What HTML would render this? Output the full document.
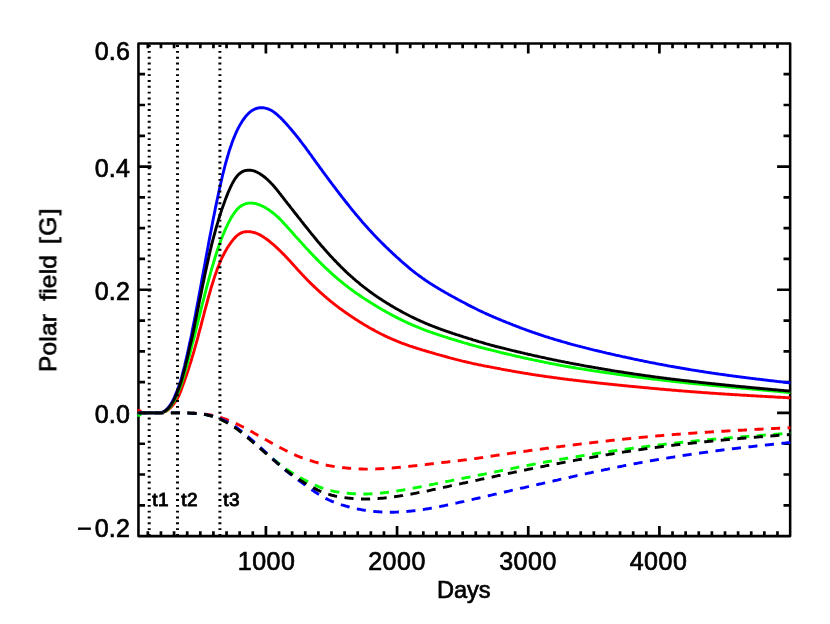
<!DOCTYPE html>
<html><head><meta charset="utf-8"><title>Polar field</title>
<style>html,body{margin:0;padding:0;background:#fff}svg{display:block}</style></head>
<body>
<svg width="830" height="624" viewBox="0 0 830 624">
<rect width="830" height="624" fill="#fff"/>
<rect x="138.45" y="43.4" width="651.7" height="492.7" fill="none" stroke="#000" stroke-width="2.55" stroke-linejoin="round"/>
<path d="M147.85 536.1 v-4.9 M147.85 43.4 v4.9 M160.96 536.1 v-4.9 M160.96 43.4 v4.9 M174.08 536.1 v-4.9 M174.08 43.4 v4.9 M187.20 536.1 v-4.9 M187.20 43.4 v4.9 M200.31 536.1 v-4.9 M200.31 43.4 v4.9 M213.43 536.1 v-4.9 M213.43 43.4 v4.9 M226.55 536.1 v-4.9 M226.55 43.4 v4.9 M239.67 536.1 v-4.9 M239.67 43.4 v4.9 M252.78 536.1 v-4.9 M252.78 43.4 v4.9 M265.90 536.1 v-10 M265.90 43.4 v10 M279.02 536.1 v-4.9 M279.02 43.4 v4.9 M292.13 536.1 v-4.9 M292.13 43.4 v4.9 M305.25 536.1 v-4.9 M305.25 43.4 v4.9 M318.37 536.1 v-4.9 M318.37 43.4 v4.9 M331.49 536.1 v-4.9 M331.49 43.4 v4.9 M344.60 536.1 v-4.9 M344.60 43.4 v4.9 M357.72 536.1 v-4.9 M357.72 43.4 v4.9 M370.84 536.1 v-4.9 M370.84 43.4 v4.9 M383.95 536.1 v-4.9 M383.95 43.4 v4.9 M397.07 536.1 v-10 M397.07 43.4 v10 M410.19 536.1 v-4.9 M410.19 43.4 v4.9 M423.30 536.1 v-4.9 M423.30 43.4 v4.9 M436.42 536.1 v-4.9 M436.42 43.4 v4.9 M449.54 536.1 v-4.9 M449.54 43.4 v4.9 M462.65 536.1 v-4.9 M462.65 43.4 v4.9 M475.77 536.1 v-4.9 M475.77 43.4 v4.9 M488.89 536.1 v-4.9 M488.89 43.4 v4.9 M502.01 536.1 v-4.9 M502.01 43.4 v4.9 M515.12 536.1 v-4.9 M515.12 43.4 v4.9 M528.24 536.1 v-10 M528.24 43.4 v10 M541.36 536.1 v-4.9 M541.36 43.4 v4.9 M554.47 536.1 v-4.9 M554.47 43.4 v4.9 M567.59 536.1 v-4.9 M567.59 43.4 v4.9 M580.71 536.1 v-4.9 M580.71 43.4 v4.9 M593.83 536.1 v-4.9 M593.83 43.4 v4.9 M606.94 536.1 v-4.9 M606.94 43.4 v4.9 M620.06 536.1 v-4.9 M620.06 43.4 v4.9 M633.18 536.1 v-4.9 M633.18 43.4 v4.9 M646.29 536.1 v-4.9 M646.29 43.4 v4.9 M659.41 536.1 v-10 M659.41 43.4 v10 M672.53 536.1 v-4.9 M672.53 43.4 v4.9 M685.64 536.1 v-4.9 M685.64 43.4 v4.9 M698.76 536.1 v-4.9 M698.76 43.4 v4.9 M711.88 536.1 v-4.9 M711.88 43.4 v4.9 M725.00 536.1 v-4.9 M725.00 43.4 v4.9 M738.11 536.1 v-4.9 M738.11 43.4 v4.9 M751.23 536.1 v-4.9 M751.23 43.4 v4.9 M764.35 536.1 v-4.9 M764.35 43.4 v4.9 M777.46 536.1 v-4.9 M777.46 43.4 v4.9 M138.45 505.31 h6.6 M790.1 505.31 h-6.6 M138.45 474.52 h6.6 M790.1 474.52 h-6.6 M138.45 443.73 h6.6 M790.1 443.73 h-6.6 M138.45 412.93 h13 M790.1 412.93 h-13 M138.45 382.13 h6.6 M790.1 382.13 h-6.6 M138.45 351.34 h6.6 M790.1 351.34 h-6.6 M138.45 320.55 h6.6 M790.1 320.55 h-6.6 M138.45 289.75 h13 M790.1 289.75 h-13 M138.45 258.96 h6.6 M790.1 258.96 h-6.6 M138.45 228.16 h6.6 M790.1 228.16 h-6.6 M138.45 197.36 h6.6 M790.1 197.36 h-6.6 M138.45 166.57 h13 M790.1 166.57 h-13 M138.45 135.78 h6.6 M790.1 135.78 h-6.6 M138.45 104.98 h6.6 M790.1 104.98 h-6.6 M138.45 74.19 h6.6 M790.1 74.19 h-6.6" stroke="#000" stroke-width="2.7" fill="none"/>
<g fill="none" stroke-width="2.9" stroke-linejoin="round">
<path d="M137.4 410.5 L139.6 410.7 L142.5 412.9 L158.0 412.9 L161.0 412.9 L162.0 412.7 L162.9 412.4 L163.9 412.1 L164.9 411.7 L165.8 411.3 L166.8 410.7 L167.8 410.0 L168.8 409.2 L169.7 408.4 L170.7 407.5 L171.7 406.5 L172.6 405.4 L173.6 404.2 L174.6 402.9 L175.5 401.5 L176.5 399.9 L177.5 398.2 L178.5 396.3 L179.4 394.3 L180.4 392.0 L181.4 389.5 L182.3 386.8 L183.3 384.1 L184.3 381.4 L185.2 378.7 L186.2 375.9 L187.2 373.0 L188.2 370.1 L189.1 367.1 L190.1 364.1 L191.1 361.0 L192.0 357.8 L193.0 354.5 L194.0 351.2 L194.9 347.8 L195.9 344.4 L196.9 340.8 L197.9 337.2 L198.8 333.6 L199.8 329.9 L200.8 326.3 L201.7 322.6 L202.7 318.8 L203.7 315.1 L204.6 311.4 L205.6 307.8 L206.6 304.1 L207.6 300.5 L208.5 297.0 L209.5 293.6 L210.5 290.2 L211.4 286.9 L212.4 283.7 L213.4 280.6 L214.3 277.6 L215.3 274.7 L216.3 272.0 L217.2 269.3 L218.2 266.7 L219.2 264.3 L220.2 262.0 L221.1 259.7 L222.1 257.7 L223.1 255.7 L224.0 253.8 L225.0 252.0 L226.0 250.2 L226.9 248.6 L227.9 247.0 L228.9 245.5 L229.9 244.1 L230.8 242.7 L231.8 241.4 L232.8 240.2 L233.7 239.0 L234.7 237.9 L235.7 236.9 L236.6 236.0 L237.6 235.1 L238.6 234.4 L239.6 233.8 L240.5 233.2 L241.5 232.8 L242.5 232.4 L243.4 232.1 L244.4 231.9 L245.4 231.7 L246.3 231.7 L247.3 231.6 L248.3 231.6 L249.3 231.7 L250.2 231.8 L251.2 231.9 L252.2 232.1 L253.1 232.3 L254.1 232.5 L255.1 232.8 L256.0 233.1 L257.0 233.5 L258.0 233.9 L258.9 234.4 L259.9 234.9 L260.9 235.4 L261.9 236.0 L262.8 236.6 L263.8 237.2 L264.8 237.9 L265.7 238.5 L266.7 239.2 L267.7 240.0 L268.6 240.7 L269.6 241.5 L270.6 242.3 L271.6 243.1 L272.5 243.9 L273.5 244.7 L274.5 245.6 L275.4 246.4 L276.4 247.3 L277.4 248.2 L278.3 249.2 L279.3 250.1 L280.3 251.0 L281.3 252.0 L282.2 253.0 L283.2 253.9 L284.2 254.9 L285.1 255.9 L286.1 256.9 L287.1 258.0 L288.0 259.0 L289.0 260.0 L290.0 261.1 L291.0 262.2 L291.9 263.2 L292.9 264.3 L293.9 265.4 L294.8 266.4 L295.8 267.5 L296.8 268.6 L297.7 269.7 L298.7 270.8 L299.7 271.8 L300.7 272.9 L301.6 273.9 L302.6 275.0 L303.6 276.0 L304.5 277.0 L305.5 278.0 L306.5 279.0 L307.4 280.0 L308.4 281.0 L309.4 282.0 L310.3 282.9 L311.3 283.9 L312.3 284.8 L313.3 285.7 L314.2 286.7 L315.2 287.6 L316.2 288.5 L317.1 289.4 L318.1 290.3 L319.1 291.2 L320.0 292.1 L321.0 292.9 L322.0 293.8 L323.0 294.7 L323.9 295.5 L324.9 296.4 L325.9 297.2 L326.8 298.1 L327.8 298.9 L328.8 299.7 L329.7 300.5 L330.7 301.3 L331.7 302.1 L332.7 302.8 L333.6 303.6 L334.6 304.4 L335.6 305.2 L336.5 305.9 L337.5 306.6 L338.5 307.4 L339.4 308.1 L340.4 308.8 L341.4 309.5 L342.4 310.2 L343.3 310.9 L344.3 311.6 L345.3 312.3 L346.2 313.0 L347.2 313.6 L348.2 314.3 L349.1 315.0 L350.1 315.6 L351.1 316.3 L352.1 316.9 L353.0 317.6 L354.0 318.2 L355.0 318.8 L355.9 319.5 L356.9 320.1 L357.9 320.7 L358.8 321.3 L359.8 321.9 L360.8 322.5 L361.7 323.1 L362.7 323.7 L363.7 324.3 L364.7 324.9 L365.6 325.5 L366.6 326.0 L367.6 326.6 L368.5 327.2 L369.5 327.7 L370.5 328.3 L371.4 328.8 L372.4 329.4 L373.4 329.9 L374.4 330.4 L375.3 331.0 L376.3 331.5 L377.3 332.0 L378.2 332.5 L379.2 333.0 L380.2 333.5 L381.1 334.0 L382.1 334.5 L383.1 334.9 L384.1 335.4 L385.0 335.9 L386.0 336.3 L387.0 336.8 L387.9 337.3 L388.9 337.7 L389.9 338.1 L390.8 338.6 L391.8 339.0 L392.8 339.4 L393.8 339.8 L394.7 340.2 L395.7 340.6 L396.7 341.0 L397.6 341.4 L398.6 341.8 L399.6 342.2 L400.5 342.6 L401.5 343.0 L402.5 343.3 L403.4 343.7 L404.4 344.0 L405.4 344.4 L406.4 344.7 L407.3 345.1 L408.3 345.4 L409.3 345.8 L410.2 346.1 L411.2 346.4 L412.2 346.7 L413.1 347.1 L414.1 347.4 L415.1 347.7 L416.1 348.0 L417.0 348.3 L418.0 348.6 L419.0 348.9 L419.9 349.2 L420.9 349.5 L421.9 349.8 L422.8 350.1 L423.8 350.4 L424.8 350.7 L425.8 351.0 L426.7 351.3 L427.7 351.5 L428.7 351.8 L429.6 352.1 L430.6 352.4 L431.6 352.7 L432.5 353.0 L433.5 353.2 L434.5 353.5 L435.5 353.8 L436.4 354.1 L437.4 354.3 L438.4 354.6 L439.3 354.9 L440.3 355.2 L441.3 355.4 L442.2 355.7 L443.2 356.0 L444.2 356.2 L445.2 356.5 L446.1 356.8 L447.1 357.0 L448.1 357.3 L449.0 357.6 L450.0 357.8 L451.0 358.1 L451.9 358.3 L452.9 358.6 L453.9 358.8 L454.8 359.1 L455.8 359.4 L456.8 359.6 L457.8 359.9 L458.7 360.1 L459.7 360.3 L460.7 360.6 L461.6 360.8 L462.6 361.1 L463.6 361.3 L464.5 361.5 L465.5 361.8 L466.5 362.0 L467.5 362.2 L468.4 362.5 L469.4 362.7 L470.4 362.9 L471.3 363.1 L472.3 363.4 L473.3 363.6 L474.2 363.8 L475.2 364.0 L476.2 364.2 L477.2 364.4 L478.1 364.6 L479.1 364.8 L480.1 365.0 L481.0 365.2 L482.0 365.4 L483.0 365.6 L483.9 365.8 L484.9 366.0 L485.9 366.1 L486.9 366.3 L487.8 366.5 L488.8 366.7 L489.8 366.9 L490.7 367.1 L491.7 367.2 L492.7 367.4 L493.6 367.6 L494.6 367.8 L495.6 368.0 L496.6 368.2 L497.5 368.4 L498.5 368.5 L499.5 368.7 L500.4 368.9 L501.4 369.1 L502.4 369.3 L503.3 369.5 L504.3 369.6 L505.3 369.8 L506.2 370.0 L507.2 370.2 L508.2 370.4 L509.2 370.5 L510.1 370.7 L511.1 370.9 L512.1 371.1 L513.0 371.2 L514.0 371.4 L515.0 371.6 L515.9 371.7 L516.9 371.9 L517.9 372.1 L518.9 372.2 L519.8 372.4 L520.8 372.6 L521.8 372.7 L522.7 372.9 L523.7 373.1 L524.7 373.2 L525.6 373.4 L526.6 373.5 L527.6 373.7 L528.6 373.9 L529.5 374.0 L530.5 374.2 L531.5 374.3 L532.4 374.5 L533.4 374.6 L534.4 374.8 L535.3 374.9 L536.3 375.1 L537.3 375.2 L538.3 375.3 L539.2 375.5 L540.2 375.6 L541.2 375.8 L542.1 375.9 L543.1 376.1 L544.1 376.2 L545.0 376.3 L546.0 376.5 L547.0 376.6 L548.0 376.8 L548.9 376.9 L549.9 377.0 L550.9 377.2 L551.8 377.3 L552.8 377.4 L553.8 377.6 L554.7 377.7 L555.7 377.8 L556.7 377.9 L557.6 378.1 L558.6 378.2 L559.6 378.3 L560.6 378.5 L561.5 378.6 L562.5 378.7 L563.5 378.8 L564.4 379.0 L565.4 379.1 L566.4 379.2 L567.3 379.3 L568.3 379.5 L569.3 379.6 L570.3 379.7 L571.2 379.8 L572.2 379.9 L573.2 380.1 L574.1 380.2 L575.1 380.3 L576.1 380.4 L577.0 380.5 L578.0 380.6 L579.0 380.8 L580.0 380.9 L580.9 381.0 L581.9 381.1 L582.9 381.2 L583.8 381.3 L584.8 381.4 L585.8 381.6 L586.7 381.7 L587.7 381.8 L588.7 381.9 L589.7 382.0 L590.6 382.1 L591.6 382.2 L592.6 382.3 L593.5 382.4 L594.5 382.5 L595.5 382.7 L596.4 382.8 L597.4 382.9 L598.4 383.0 L599.3 383.1 L600.3 383.2 L601.3 383.3 L602.3 383.4 L603.2 383.5 L604.2 383.6 L605.2 383.7 L606.1 383.8 L607.1 383.9 L608.1 384.0 L609.0 384.1 L610.0 384.2 L611.0 384.3 L612.0 384.4 L612.9 384.5 L613.9 384.6 L614.9 384.7 L615.8 384.8 L616.8 384.9 L617.8 385.0 L618.7 385.1 L619.7 385.2 L620.7 385.3 L621.7 385.4 L622.6 385.5 L623.6 385.6 L624.6 385.7 L625.5 385.8 L626.5 385.9 L627.5 386.0 L628.4 386.1 L629.4 386.2 L630.4 386.3 L631.4 386.4 L632.3 386.5 L633.3 386.5 L634.3 386.6 L635.2 386.7 L636.2 386.8 L637.2 386.9 L638.1 387.0 L639.1 387.1 L640.1 387.2 L641.1 387.3 L642.0 387.4 L643.0 387.5 L644.0 387.6 L644.9 387.7 L645.9 387.8 L646.9 387.8 L647.8 387.9 L648.8 388.0 L649.8 388.1 L650.7 388.2 L651.7 388.3 L652.7 388.4 L653.7 388.5 L654.6 388.6 L655.6 388.6 L656.6 388.7 L657.5 388.8 L658.5 388.9 L659.5 389.0 L660.4 389.1 L661.4 389.2 L662.4 389.3 L663.4 389.3 L664.3 389.4 L665.3 389.5 L666.3 389.6 L667.2 389.7 L668.2 389.8 L669.2 389.8 L670.1 389.9 L671.1 390.0 L672.1 390.1 L673.1 390.2 L674.0 390.3 L675.0 390.3 L676.0 390.4 L676.9 390.5 L677.9 390.6 L678.9 390.7 L679.8 390.7 L680.8 390.8 L681.8 390.9 L682.8 391.0 L683.7 391.1 L684.7 391.1 L685.7 391.2 L686.6 391.3 L687.6 391.4 L688.6 391.4 L689.5 391.5 L690.5 391.6 L691.5 391.7 L692.5 391.8 L693.4 391.8 L694.4 391.9 L695.4 392.0 L696.3 392.0 L697.3 392.1 L698.3 392.2 L699.2 392.3 L700.2 392.3 L701.2 392.4 L702.1 392.5 L703.1 392.6 L704.1 392.6 L705.1 392.7 L706.0 392.8 L707.0 392.8 L708.0 392.9 L708.9 393.0 L709.9 393.0 L710.9 393.1 L711.8 393.2 L712.8 393.2 L713.8 393.3 L714.8 393.4 L715.7 393.4 L716.7 393.5 L717.7 393.6 L718.6 393.6 L719.6 393.7 L720.6 393.8 L721.5 393.8 L722.5 393.9 L723.5 394.0 L724.5 394.0 L725.4 394.1 L726.4 394.1 L727.4 394.2 L728.3 394.3 L729.3 394.3 L730.3 394.4 L731.2 394.5 L732.2 394.5 L733.2 394.6 L734.2 394.6 L735.1 394.7 L736.1 394.8 L737.1 394.8 L738.0 394.9 L739.0 394.9 L740.0 395.0 L740.9 395.1 L741.9 395.1 L742.9 395.2 L743.8 395.2 L744.8 395.3 L745.8 395.3 L746.8 395.4 L747.7 395.5 L748.7 395.5 L749.7 395.6 L750.6 395.6 L751.6 395.7 L752.6 395.7 L753.5 395.8 L754.5 395.9 L755.5 395.9 L756.5 396.0 L757.4 396.0 L758.4 396.1 L759.4 396.1 L760.3 396.2 L761.3 396.2 L762.3 396.3 L763.2 396.4 L764.2 396.4 L765.2 396.5 L766.2 396.5 L767.1 396.6 L768.1 396.6 L769.1 396.7 L770.0 396.7 L771.0 396.8 L772.0 396.8 L772.9 396.9 L773.9 396.9 L774.9 397.0 L775.9 397.1 L776.8 397.1 L777.8 397.2 L778.8 397.2 L779.7 397.3 L780.7 397.3 L781.7 397.4 L782.6 397.4 L783.6 397.5 L784.6 397.5 L785.6 397.6 L786.5 397.6 L787.5 397.7 L788.5 397.7 L789.4 397.8 L790.4 397.8" stroke="#ff0000"/>
<path d="M137.4 415.4 L139.6 415.2 L142.5 412.9 L158.0 412.9 L160.8 412.9 L161.8 412.7 L162.7 412.4 L163.7 412.0 L164.7 411.6 L165.7 411.0 L166.6 410.3 L167.6 409.5 L168.6 408.5 L169.5 407.5 L170.5 406.4 L171.5 405.1 L172.4 403.6 L173.4 402.1 L174.4 400.4 L175.4 398.5 L176.3 396.4 L177.3 394.2 L178.3 391.9 L179.2 389.5 L180.2 387.0 L181.2 384.3 L182.1 381.5 L183.1 378.4 L184.1 375.0 L185.1 371.5 L186.0 368.1 L187.0 364.7 L188.0 361.2 L188.9 357.6 L189.9 353.7 L190.9 349.7 L191.8 345.8 L192.8 342.2 L193.8 338.6 L194.8 334.8 L195.7 330.9 L196.7 326.9 L197.7 323.0 L198.6 319.1 L199.6 315.1 L200.6 311.2 L201.5 307.4 L202.5 303.5 L203.5 299.7 L204.5 295.8 L205.4 292.1 L206.4 288.4 L207.4 284.7 L208.3 281.1 L209.3 277.5 L210.3 274.0 L211.2 270.5 L212.2 267.1 L213.2 263.8 L214.2 260.5 L215.1 257.3 L216.1 254.2 L217.1 251.2 L218.0 248.3 L219.0 245.5 L220.0 242.8 L220.9 240.2 L221.9 237.7 L222.9 235.2 L223.9 232.9 L224.8 230.6 L225.8 228.4 L226.8 226.3 L227.7 224.3 L228.7 222.3 L229.7 220.5 L230.6 218.7 L231.6 217.0 L232.6 215.5 L233.6 214.0 L234.5 212.6 L235.5 211.3 L236.5 210.1 L237.4 209.0 L238.4 208.1 L239.4 207.2 L240.3 206.5 L241.3 205.8 L242.3 205.2 L243.3 204.7 L244.2 204.3 L245.2 203.9 L246.2 203.6 L247.1 203.4 L248.1 203.2 L249.1 203.1 L250.0 203.1 L251.0 203.0 L252.0 203.1 L253.0 203.2 L253.9 203.3 L254.9 203.5 L255.9 203.7 L256.8 204.0 L257.8 204.3 L258.8 204.6 L259.8 205.0 L260.7 205.4 L261.7 205.8 L262.7 206.3 L263.6 206.7 L264.6 207.2 L265.6 207.8 L266.5 208.4 L267.5 209.0 L268.5 209.6 L269.5 210.3 L270.4 211.0 L271.4 211.7 L272.4 212.5 L273.3 213.2 L274.3 214.0 L275.3 214.8 L276.2 215.6 L277.2 216.5 L278.2 217.4 L279.2 218.4 L280.1 219.3 L281.1 220.3 L282.1 221.3 L283.0 222.4 L284.0 223.4 L285.0 224.5 L285.9 225.5 L286.9 226.6 L287.9 227.7 L288.9 228.8 L289.8 229.9 L290.8 230.9 L291.8 232.0 L292.7 233.1 L293.7 234.2 L294.7 235.3 L295.6 236.4 L296.6 237.5 L297.6 238.5 L298.6 239.6 L299.5 240.7 L300.5 241.8 L301.5 242.8 L302.4 243.9 L303.4 245.0 L304.4 246.1 L305.3 247.1 L306.3 248.2 L307.3 249.2 L308.3 250.3 L309.2 251.3 L310.2 252.4 L311.2 253.4 L312.1 254.4 L313.1 255.4 L314.1 256.4 L315.0 257.4 L316.0 258.4 L317.0 259.4 L318.0 260.4 L318.9 261.4 L319.9 262.3 L320.9 263.3 L321.8 264.3 L322.8 265.2 L323.8 266.1 L324.7 267.1 L325.7 268.0 L326.7 268.9 L327.7 269.8 L328.6 270.7 L329.6 271.6 L330.6 272.5 L331.5 273.4 L332.5 274.3 L333.5 275.1 L334.4 276.0 L335.4 276.8 L336.4 277.7 L337.4 278.5 L338.3 279.3 L339.3 280.1 L340.3 280.9 L341.2 281.7 L342.2 282.5 L343.2 283.3 L344.2 284.1 L345.1 284.8 L346.1 285.6 L347.1 286.3 L348.0 287.1 L349.0 287.8 L350.0 288.6 L350.9 289.3 L351.9 290.0 L352.9 290.7 L353.9 291.4 L354.8 292.1 L355.8 292.8 L356.8 293.5 L357.7 294.1 L358.7 294.8 L359.7 295.5 L360.6 296.1 L361.6 296.8 L362.6 297.4 L363.6 298.1 L364.5 298.7 L365.5 299.3 L366.5 300.0 L367.4 300.6 L368.4 301.2 L369.4 301.8 L370.3 302.4 L371.3 303.0 L372.3 303.6 L373.3 304.2 L374.2 304.8 L375.2 305.4 L376.2 306.0 L377.1 306.6 L378.1 307.2 L379.1 307.8 L380.0 308.3 L381.0 308.9 L382.0 309.5 L383.0 310.0 L383.9 310.6 L384.9 311.1 L385.9 311.7 L386.8 312.2 L387.8 312.8 L388.8 313.3 L389.7 313.8 L390.7 314.4 L391.7 314.9 L392.7 315.4 L393.6 315.9 L394.6 316.4 L395.6 316.9 L396.5 317.4 L397.5 317.9 L398.5 318.4 L399.4 318.9 L400.4 319.4 L401.4 319.9 L402.4 320.3 L403.3 320.8 L404.3 321.2 L405.3 321.7 L406.2 322.2 L407.2 322.6 L408.2 323.1 L409.1 323.5 L410.1 323.9 L411.1 324.4 L412.1 324.8 L413.0 325.2 L414.0 325.6 L415.0 326.0 L415.9 326.4 L416.9 326.8 L417.9 327.2 L418.8 327.6 L419.8 328.0 L420.8 328.4 L421.8 328.8 L422.7 329.2 L423.7 329.6 L424.7 329.9 L425.6 330.3 L426.6 330.7 L427.6 331.0 L428.5 331.4 L429.5 331.7 L430.5 332.1 L431.5 332.4 L432.4 332.7 L433.4 333.1 L434.4 333.4 L435.3 333.7 L436.3 334.1 L437.3 334.4 L438.3 334.7 L439.2 335.0 L440.2 335.4 L441.2 335.7 L442.1 336.0 L443.1 336.3 L444.1 336.6 L445.0 336.9 L446.0 337.2 L447.0 337.5 L448.0 337.8 L448.9 338.2 L449.9 338.5 L450.9 338.8 L451.8 339.1 L452.8 339.4 L453.8 339.7 L454.7 340.0 L455.7 340.2 L456.7 340.5 L457.7 340.8 L458.6 341.1 L459.6 341.4 L460.6 341.7 L461.5 342.0 L462.5 342.3 L463.5 342.6 L464.4 342.9 L465.4 343.2 L466.4 343.4 L467.4 343.7 L468.3 344.0 L469.3 344.3 L470.3 344.6 L471.2 344.8 L472.2 345.1 L473.2 345.4 L474.1 345.6 L475.1 345.9 L476.1 346.2 L477.1 346.4 L478.0 346.7 L479.0 347.0 L480.0 347.2 L480.9 347.5 L481.9 347.7 L482.9 348.0 L483.8 348.2 L484.8 348.5 L485.8 348.7 L486.8 349.0 L487.7 349.2 L488.7 349.5 L489.7 349.7 L490.6 349.9 L491.6 350.2 L492.6 350.4 L493.5 350.7 L494.5 350.9 L495.5 351.1 L496.5 351.4 L497.4 351.6 L498.4 351.9 L499.4 352.1 L500.3 352.3 L501.3 352.6 L502.3 352.8 L503.2 353.0 L504.2 353.3 L505.2 353.5 L506.2 353.8 L507.1 354.0 L508.1 354.2 L509.1 354.4 L510.0 354.7 L511.0 354.9 L512.0 355.1 L512.9 355.4 L513.9 355.6 L514.9 355.8 L515.9 356.0 L516.8 356.3 L517.8 356.5 L518.8 356.7 L519.7 356.9 L520.7 357.2 L521.7 357.4 L522.7 357.6 L523.6 357.8 L524.6 358.0 L525.6 358.2 L526.5 358.5 L527.5 358.7 L528.5 358.9 L529.4 359.1 L530.4 359.3 L531.4 359.5 L532.4 359.7 L533.3 359.9 L534.3 360.1 L535.3 360.3 L536.2 360.5 L537.2 360.7 L538.2 360.9 L539.1 361.1 L540.1 361.3 L541.1 361.5 L542.1 361.7 L543.0 361.9 L544.0 362.1 L545.0 362.3 L545.9 362.5 L546.9 362.7 L547.9 362.9 L548.8 363.1 L549.8 363.3 L550.8 363.5 L551.8 363.6 L552.7 363.8 L553.7 364.0 L554.7 364.2 L555.6 364.4 L556.6 364.6 L557.6 364.7 L558.5 364.9 L559.5 365.1 L560.5 365.3 L561.5 365.4 L562.4 365.6 L563.4 365.8 L564.4 366.0 L565.3 366.1 L566.3 366.3 L567.3 366.5 L568.2 366.7 L569.2 366.8 L570.2 367.0 L571.2 367.2 L572.1 367.3 L573.1 367.5 L574.1 367.7 L575.0 367.8 L576.0 368.0 L577.0 368.1 L577.9 368.3 L578.9 368.5 L579.9 368.6 L580.9 368.8 L581.8 368.9 L582.8 369.1 L583.8 369.3 L584.7 369.4 L585.7 369.6 L586.7 369.7 L587.6 369.9 L588.6 370.0 L589.6 370.2 L590.6 370.3 L591.5 370.5 L592.5 370.6 L593.5 370.8 L594.4 370.9 L595.4 371.1 L596.4 371.2 L597.3 371.4 L598.3 371.5 L599.3 371.7 L600.3 371.8 L601.2 372.0 L602.2 372.1 L603.2 372.2 L604.1 372.4 L605.1 372.5 L606.1 372.7 L607.0 372.8 L608.0 372.9 L609.0 373.1 L610.0 373.2 L610.9 373.4 L611.9 373.5 L612.9 373.6 L613.8 373.8 L614.8 373.9 L615.8 374.1 L616.8 374.2 L617.7 374.3 L618.7 374.5 L619.7 374.6 L620.6 374.7 L621.6 374.9 L622.6 375.0 L623.5 375.1 L624.5 375.3 L625.5 375.4 L626.5 375.5 L627.4 375.7 L628.4 375.8 L629.4 375.9 L630.3 376.1 L631.3 376.2 L632.3 376.3 L633.2 376.5 L634.2 376.6 L635.2 376.7 L636.2 376.8 L637.1 377.0 L638.1 377.1 L639.1 377.2 L640.0 377.4 L641.0 377.5 L642.0 377.6 L642.9 377.7 L643.9 377.9 L644.9 378.0 L645.9 378.1 L646.8 378.2 L647.8 378.3 L648.8 378.5 L649.7 378.6 L650.7 378.7 L651.7 378.8 L652.6 379.0 L653.6 379.1 L654.6 379.2 L655.6 379.3 L656.5 379.4 L657.5 379.6 L658.5 379.7 L659.4 379.8 L660.4 379.9 L661.4 380.0 L662.3 380.1 L663.3 380.3 L664.3 380.4 L665.3 380.5 L666.2 380.6 L667.2 380.7 L668.2 380.8 L669.1 380.9 L670.1 381.0 L671.1 381.2 L672.0 381.3 L673.0 381.4 L674.0 381.5 L675.0 381.6 L675.9 381.7 L676.9 381.8 L677.9 381.9 L678.8 382.0 L679.8 382.1 L680.8 382.2 L681.7 382.3 L682.7 382.4 L683.7 382.5 L684.7 382.7 L685.6 382.8 L686.6 382.9 L687.6 383.0 L688.5 383.1 L689.5 383.2 L690.5 383.3 L691.4 383.4 L692.4 383.5 L693.4 383.6 L694.4 383.7 L695.3 383.8 L696.3 383.9 L697.3 384.0 L698.2 384.0 L699.2 384.1 L700.2 384.2 L701.2 384.3 L702.1 384.4 L703.1 384.5 L704.1 384.6 L705.0 384.7 L706.0 384.8 L707.0 384.9 L707.9 385.0 L708.9 385.1 L709.9 385.2 L710.9 385.3 L711.8 385.4 L712.8 385.5 L713.8 385.5 L714.7 385.6 L715.7 385.7 L716.7 385.8 L717.6 385.9 L718.6 386.0 L719.6 386.1 L720.6 386.2 L721.5 386.3 L722.5 386.4 L723.5 386.4 L724.4 386.5 L725.4 386.6 L726.4 386.7 L727.3 386.8 L728.3 386.9 L729.3 387.0 L730.3 387.1 L731.2 387.1 L732.2 387.2 L733.2 387.3 L734.1 387.4 L735.1 387.5 L736.1 387.6 L737.0 387.7 L738.0 387.8 L739.0 387.9 L740.0 387.9 L740.9 388.0 L741.9 388.1 L742.9 388.2 L743.8 388.3 L744.8 388.4 L745.8 388.5 L746.7 388.6 L747.7 388.6 L748.7 388.7 L749.7 388.8 L750.6 388.9 L751.6 389.0 L752.6 389.1 L753.5 389.2 L754.5 389.3 L755.5 389.4 L756.4 389.4 L757.4 389.5 L758.4 389.6 L759.4 389.7 L760.3 389.8 L761.3 389.9 L762.3 390.0 L763.2 390.1 L764.2 390.2 L765.2 390.3 L766.1 390.3 L767.1 390.4 L768.1 390.5 L769.1 390.6 L770.0 390.7 L771.0 390.8 L772.0 390.9 L772.9 391.0 L773.9 391.1 L774.9 391.1 L775.8 391.2 L776.8 391.3 L777.8 391.4 L778.8 391.5 L779.7 391.6 L780.7 391.7 L781.7 391.8 L782.6 391.9 L783.6 392.0 L784.6 392.0 L785.5 392.1 L786.5 392.2 L787.5 392.3 L788.5 392.4 L789.4 392.5 L790.4 392.6" stroke="#00ff00"/>
<path d="M138.4 412.9 L158.0 412.9 L160.3 412.9 L161.3 412.6 L162.2 412.2 L163.2 411.8 L164.2 411.3 L165.2 410.6 L166.1 409.8 L167.1 408.9 L168.1 407.9 L169.0 406.7 L170.0 405.4 L171.0 403.8 L172.0 402.2 L172.9 400.4 L173.9 398.4 L174.9 396.2 L175.8 393.9 L176.8 391.5 L177.8 389.0 L178.7 386.5 L179.7 383.7 L180.7 380.6 L181.7 377.2 L182.6 373.5 L183.6 369.7 L184.6 365.8 L185.5 361.9 L186.5 357.8 L187.5 353.3 L188.5 348.7 L189.4 344.2 L190.4 340.0 L191.4 335.4 L192.3 330.5 L193.3 325.6 L194.3 320.6 L195.3 315.5 L196.2 310.4 L197.2 305.3 L198.2 300.1 L199.1 294.9 L200.1 289.7 L201.1 284.4 L202.0 279.1 L203.0 273.9 L204.0 268.6 L205.0 263.3 L205.9 258.0 L206.9 252.7 L207.9 247.4 L208.8 242.2 L209.8 237.1 L210.8 231.9 L211.8 226.8 L212.7 221.8 L213.7 216.8 L214.7 211.9 L215.6 207.1 L216.6 202.4 L217.6 197.7 L218.6 193.1 L219.5 188.7 L220.5 184.3 L221.5 180.1 L222.4 176.0 L223.4 172.0 L224.4 168.2 L225.3 164.5 L226.3 160.9 L227.3 157.5 L228.3 154.2 L229.2 151.0 L230.2 148.0 L231.2 145.2 L232.1 142.4 L233.1 139.8 L234.1 137.4 L235.1 135.0 L236.0 132.8 L237.0 130.7 L238.0 128.7 L238.9 126.9 L239.9 125.1 L240.9 123.4 L241.9 121.8 L242.8 120.3 L243.8 119.0 L244.8 117.7 L245.7 116.4 L246.7 115.3 L247.7 114.3 L248.6 113.3 L249.6 112.4 L250.6 111.6 L251.6 110.9 L252.5 110.3 L253.5 109.7 L254.5 109.2 L255.4 108.8 L256.4 108.5 L257.4 108.2 L258.4 108.0 L259.3 107.8 L260.3 107.7 L261.3 107.7 L262.2 107.7 L263.2 107.8 L264.2 107.9 L265.2 108.1 L266.1 108.3 L267.1 108.6 L268.1 108.9 L269.0 109.3 L270.0 109.7 L271.0 110.2 L272.0 110.8 L272.9 111.4 L273.9 112.1 L274.9 112.8 L275.8 113.5 L276.8 114.3 L277.8 115.2 L278.7 116.1 L279.7 117.0 L280.7 117.9 L281.7 118.9 L282.6 119.9 L283.6 120.9 L284.6 122.0 L285.5 123.0 L286.5 124.1 L287.5 125.2 L288.5 126.3 L289.4 127.4 L290.4 128.5 L291.4 129.7 L292.3 130.8 L293.3 132.0 L294.3 133.2 L295.3 134.4 L296.2 135.6 L297.2 136.8 L298.2 138.0 L299.1 139.2 L300.1 140.5 L301.1 141.8 L302.0 143.0 L303.0 144.3 L304.0 145.6 L305.0 146.9 L305.9 148.2 L306.9 149.6 L307.9 150.9 L308.8 152.2 L309.8 153.6 L310.8 154.9 L311.8 156.2 L312.7 157.6 L313.7 158.9 L314.7 160.3 L315.6 161.6 L316.6 163.0 L317.6 164.3 L318.6 165.7 L319.5 167.0 L320.5 168.3 L321.5 169.7 L322.4 171.0 L323.4 172.3 L324.4 173.6 L325.3 174.9 L326.3 176.2 L327.3 177.6 L328.3 178.9 L329.2 180.2 L330.2 181.5 L331.2 182.8 L332.1 184.0 L333.1 185.3 L334.1 186.6 L335.1 187.9 L336.0 189.2 L337.0 190.5 L338.0 191.7 L338.9 193.0 L339.9 194.3 L340.9 195.5 L341.9 196.8 L342.8 198.0 L343.8 199.3 L344.8 200.5 L345.7 201.8 L346.7 203.0 L347.7 204.2 L348.7 205.4 L349.6 206.6 L350.6 207.9 L351.6 209.1 L352.5 210.3 L353.5 211.4 L354.5 212.6 L355.4 213.8 L356.4 215.0 L357.4 216.1 L358.4 217.3 L359.3 218.4 L360.3 219.6 L361.3 220.7 L362.2 221.8 L363.2 223.0 L364.2 224.1 L365.2 225.2 L366.1 226.2 L367.1 227.3 L368.1 228.4 L369.0 229.5 L370.0 230.5 L371.0 231.6 L372.0 232.6 L372.9 233.7 L373.9 234.7 L374.9 235.7 L375.8 236.7 L376.8 237.7 L377.8 238.7 L378.7 239.7 L379.7 240.7 L380.7 241.7 L381.7 242.7 L382.6 243.7 L383.6 244.6 L384.6 245.6 L385.5 246.5 L386.5 247.5 L387.5 248.4 L388.5 249.3 L389.4 250.3 L390.4 251.2 L391.4 252.1 L392.3 253.0 L393.3 253.9 L394.3 254.8 L395.3 255.7 L396.2 256.6 L397.2 257.5 L398.2 258.4 L399.1 259.2 L400.1 260.1 L401.1 261.0 L402.0 261.8 L403.0 262.7 L404.0 263.5 L405.0 264.4 L405.9 265.2 L406.9 266.0 L407.9 266.8 L408.8 267.7 L409.8 268.5 L410.8 269.3 L411.8 270.1 L412.7 270.8 L413.7 271.6 L414.7 272.4 L415.6 273.1 L416.6 273.9 L417.6 274.6 L418.6 275.3 L419.5 276.0 L420.5 276.7 L421.5 277.4 L422.4 278.1 L423.4 278.8 L424.4 279.5 L425.3 280.2 L426.3 280.8 L427.3 281.5 L428.3 282.1 L429.2 282.7 L430.2 283.4 L431.2 284.0 L432.1 284.6 L433.1 285.2 L434.1 285.8 L435.1 286.4 L436.0 287.0 L437.0 287.6 L438.0 288.2 L438.9 288.8 L439.9 289.3 L440.9 289.9 L441.9 290.5 L442.8 291.0 L443.8 291.6 L444.8 292.2 L445.7 292.7 L446.7 293.3 L447.7 293.8 L448.7 294.4 L449.6 294.9 L450.6 295.4 L451.6 296.0 L452.5 296.5 L453.5 297.0 L454.5 297.6 L455.4 298.1 L456.4 298.6 L457.4 299.2 L458.4 299.7 L459.3 300.2 L460.3 300.7 L461.3 301.3 L462.2 301.8 L463.2 302.3 L464.2 302.8 L465.2 303.3 L466.1 303.8 L467.1 304.4 L468.1 304.9 L469.0 305.4 L470.0 305.9 L471.0 306.4 L472.0 306.9 L472.9 307.3 L473.9 307.8 L474.9 308.3 L475.8 308.8 L476.8 309.3 L477.8 309.8 L478.7 310.2 L479.7 310.7 L480.7 311.2 L481.7 311.6 L482.6 312.1 L483.6 312.5 L484.6 313.0 L485.5 313.4 L486.5 313.9 L487.5 314.3 L488.5 314.7 L489.4 315.2 L490.4 315.6 L491.4 316.0 L492.3 316.4 L493.3 316.9 L494.3 317.3 L495.3 317.7 L496.2 318.1 L497.2 318.5 L498.2 318.9 L499.1 319.3 L500.1 319.7 L501.1 320.1 L502.0 320.5 L503.0 320.9 L504.0 321.3 L505.0 321.7 L505.9 322.1 L506.9 322.5 L507.9 322.9 L508.8 323.2 L509.8 323.6 L510.8 324.0 L511.8 324.4 L512.7 324.8 L513.7 325.2 L514.7 325.5 L515.6 325.9 L516.6 326.3 L517.6 326.7 L518.6 327.0 L519.5 327.4 L520.5 327.8 L521.5 328.1 L522.4 328.5 L523.4 328.9 L524.4 329.2 L525.4 329.6 L526.3 329.9 L527.3 330.3 L528.3 330.6 L529.2 331.0 L530.2 331.3 L531.2 331.7 L532.1 332.0 L533.1 332.4 L534.1 332.7 L535.1 333.0 L536.0 333.4 L537.0 333.7 L538.0 334.0 L538.9 334.3 L539.9 334.7 L540.9 335.0 L541.9 335.3 L542.8 335.6 L543.8 336.0 L544.8 336.3 L545.7 336.6 L546.7 336.9 L547.7 337.2 L548.7 337.5 L549.6 337.8 L550.6 338.1 L551.6 338.4 L552.5 338.7 L553.5 339.0 L554.5 339.3 L555.4 339.6 L556.4 339.9 L557.4 340.2 L558.4 340.5 L559.3 340.7 L560.3 341.0 L561.3 341.3 L562.2 341.6 L563.2 341.9 L564.2 342.2 L565.2 342.4 L566.1 342.7 L567.1 343.0 L568.1 343.3 L569.0 343.5 L570.0 343.8 L571.0 344.1 L572.0 344.3 L572.9 344.6 L573.9 344.9 L574.9 345.1 L575.8 345.4 L576.8 345.6 L577.8 345.9 L578.7 346.1 L579.7 346.4 L580.7 346.7 L581.7 346.9 L582.6 347.2 L583.6 347.4 L584.6 347.7 L585.5 347.9 L586.5 348.2 L587.5 348.4 L588.5 348.6 L589.4 348.9 L590.4 349.1 L591.4 349.4 L592.3 349.6 L593.3 349.8 L594.3 350.1 L595.3 350.3 L596.2 350.5 L597.2 350.8 L598.2 351.0 L599.1 351.2 L600.1 351.5 L601.1 351.7 L602.0 351.9 L603.0 352.2 L604.0 352.4 L605.0 352.6 L605.9 352.8 L606.9 353.1 L607.9 353.3 L608.8 353.5 L609.8 353.7 L610.8 354.0 L611.8 354.2 L612.7 354.4 L613.7 354.6 L614.7 354.8 L615.6 355.1 L616.6 355.3 L617.6 355.5 L618.6 355.7 L619.5 355.9 L620.5 356.1 L621.5 356.3 L622.4 356.6 L623.4 356.8 L624.4 357.0 L625.4 357.2 L626.3 357.4 L627.3 357.6 L628.3 357.8 L629.2 358.0 L630.2 358.2 L631.2 358.5 L632.1 358.7 L633.1 358.9 L634.1 359.1 L635.1 359.3 L636.0 359.5 L637.0 359.7 L638.0 359.9 L638.9 360.1 L639.9 360.3 L640.9 360.5 L641.9 360.7 L642.8 360.9 L643.8 361.1 L644.8 361.3 L645.7 361.5 L646.7 361.7 L647.7 361.9 L648.7 362.1 L649.6 362.3 L650.6 362.5 L651.6 362.6 L652.5 362.8 L653.5 363.0 L654.5 363.2 L655.4 363.4 L656.4 363.6 L657.4 363.8 L658.4 364.0 L659.3 364.1 L660.3 364.3 L661.3 364.5 L662.2 364.7 L663.2 364.9 L664.2 365.1 L665.2 365.2 L666.1 365.4 L667.1 365.6 L668.1 365.8 L669.0 366.0 L670.0 366.1 L671.0 366.3 L672.0 366.5 L672.9 366.7 L673.9 366.8 L674.9 367.0 L675.8 367.2 L676.8 367.3 L677.8 367.5 L678.7 367.7 L679.7 367.8 L680.7 368.0 L681.7 368.2 L682.6 368.3 L683.6 368.5 L684.6 368.7 L685.5 368.8 L686.5 369.0 L687.5 369.2 L688.5 369.3 L689.4 369.5 L690.4 369.6 L691.4 369.8 L692.3 370.0 L693.3 370.1 L694.3 370.3 L695.3 370.4 L696.2 370.6 L697.2 370.7 L698.2 370.9 L699.1 371.1 L700.1 371.2 L701.1 371.4 L702.1 371.5 L703.0 371.7 L704.0 371.8 L705.0 372.0 L705.9 372.1 L706.9 372.3 L707.9 372.4 L708.8 372.6 L709.8 372.7 L710.8 372.8 L711.8 373.0 L712.7 373.1 L713.7 373.3 L714.7 373.4 L715.6 373.6 L716.6 373.7 L717.6 373.8 L718.6 374.0 L719.5 374.1 L720.5 374.3 L721.5 374.4 L722.4 374.5 L723.4 374.7 L724.4 374.8 L725.4 374.9 L726.3 375.1 L727.3 375.2 L728.3 375.3 L729.2 375.5 L730.2 375.6 L731.2 375.7 L732.1 375.9 L733.1 376.0 L734.1 376.1 L735.1 376.3 L736.0 376.4 L737.0 376.5 L738.0 376.6 L738.9 376.8 L739.9 376.9 L740.9 377.0 L741.9 377.2 L742.8 377.3 L743.8 377.4 L744.8 377.5 L745.7 377.6 L746.7 377.8 L747.7 377.9 L748.7 378.0 L749.6 378.1 L750.6 378.3 L751.6 378.4 L752.5 378.5 L753.5 378.6 L754.5 378.7 L755.4 378.8 L756.4 379.0 L757.4 379.1 L758.4 379.2 L759.3 379.3 L760.3 379.4 L761.3 379.5 L762.2 379.7 L763.2 379.8 L764.2 379.9 L765.2 380.0 L766.1 380.1 L767.1 380.2 L768.1 380.4 L769.0 380.5 L770.0 380.6 L771.0 380.7 L772.0 380.8 L772.9 380.9 L773.9 381.0 L774.9 381.1 L775.8 381.3 L776.8 381.4 L777.8 381.5 L778.7 381.6 L779.7 381.7 L780.7 381.8 L781.7 381.9 L782.6 382.0 L783.6 382.1 L784.6 382.3 L785.5 382.4 L786.5 382.5 L787.5 382.6 L788.5 382.7 L789.4 382.8 L790.4 382.9" stroke="#0000ff"/>
<path d="M138.4 412.9 L158.0 412.9 L160.5 412.9 L161.5 412.6 L162.4 412.3 L163.4 411.9 L164.4 411.4 L165.4 410.8 L166.3 410.1 L167.3 409.2 L168.3 408.3 L169.2 407.2 L170.2 406.0 L171.2 404.6 L172.1 403.0 L173.1 401.4 L174.1 399.5 L175.1 397.5 L176.0 395.3 L177.0 393.0 L178.0 390.6 L178.9 388.0 L179.9 385.2 L180.9 382.3 L181.9 379.1 L182.8 375.6 L183.8 372.0 L184.8 368.3 L185.7 364.5 L186.7 360.7 L187.7 356.6 L188.6 352.2 L189.6 347.7 L190.6 343.6 L191.6 339.7 L192.5 335.4 L193.5 330.8 L194.5 326.0 L195.4 321.2 L196.4 316.3 L197.4 311.5 L198.4 306.7 L199.3 301.9 L200.3 297.2 L201.3 292.4 L202.2 287.7 L203.2 283.0 L204.2 278.3 L205.1 273.7 L206.1 269.1 L207.1 264.6 L208.1 260.2 L209.0 255.9 L210.0 251.7 L211.0 247.6 L211.9 243.7 L212.9 239.8 L213.9 236.1 L214.9 232.5 L215.8 229.0 L216.8 225.6 L217.8 222.4 L218.7 219.2 L219.7 216.0 L220.7 213.0 L221.6 210.1 L222.6 207.2 L223.6 204.4 L224.6 201.7 L225.5 199.1 L226.5 196.6 L227.5 194.1 L228.4 191.8 L229.4 189.6 L230.4 187.4 L231.4 185.4 L232.3 183.5 L233.3 181.7 L234.3 180.1 L235.2 178.6 L236.2 177.2 L237.2 176.0 L238.1 174.9 L239.1 174.0 L240.1 173.2 L241.1 172.5 L242.0 171.9 L243.0 171.4 L244.0 171.0 L244.9 170.7 L245.9 170.5 L246.9 170.3 L247.9 170.2 L248.8 170.2 L249.8 170.2 L250.8 170.3 L251.7 170.4 L252.7 170.6 L253.7 170.9 L254.6 171.2 L255.6 171.6 L256.6 172.0 L257.6 172.5 L258.5 173.0 L259.5 173.5 L260.5 174.2 L261.4 174.8 L262.4 175.5 L263.4 176.2 L264.4 177.0 L265.3 177.7 L266.3 178.6 L267.3 179.4 L268.2 180.3 L269.2 181.2 L270.2 182.2 L271.1 183.2 L272.1 184.2 L273.1 185.3 L274.1 186.4 L275.0 187.6 L276.0 188.7 L277.0 189.9 L277.9 191.1 L278.9 192.3 L279.9 193.6 L280.9 194.8 L281.8 196.1 L282.8 197.3 L283.8 198.6 L284.7 199.8 L285.7 201.1 L286.7 202.3 L287.6 203.6 L288.6 204.8 L289.6 206.0 L290.6 207.3 L291.5 208.5 L292.5 209.8 L293.5 211.0 L294.4 212.3 L295.4 213.5 L296.4 214.7 L297.4 216.0 L298.3 217.2 L299.3 218.4 L300.3 219.7 L301.2 220.9 L302.2 222.1 L303.2 223.3 L304.1 224.6 L305.1 225.8 L306.1 227.0 L307.1 228.2 L308.0 229.4 L309.0 230.6 L310.0 231.9 L310.9 233.1 L311.9 234.3 L312.9 235.4 L313.9 236.6 L314.8 237.8 L315.8 239.0 L316.8 240.2 L317.7 241.3 L318.7 242.5 L319.7 243.6 L320.6 244.8 L321.6 245.9 L322.6 247.0 L323.6 248.1 L324.5 249.2 L325.5 250.3 L326.5 251.4 L327.4 252.5 L328.4 253.6 L329.4 254.7 L330.3 255.7 L331.3 256.8 L332.3 257.8 L333.3 258.9 L334.2 259.9 L335.2 260.9 L336.2 261.9 L337.1 262.9 L338.1 263.9 L339.1 264.9 L340.1 265.9 L341.0 266.9 L342.0 267.8 L343.0 268.8 L343.9 269.7 L344.9 270.6 L345.9 271.6 L346.8 272.5 L347.8 273.4 L348.8 274.3 L349.8 275.1 L350.7 276.0 L351.7 276.9 L352.7 277.7 L353.6 278.6 L354.6 279.4 L355.6 280.3 L356.6 281.1 L357.5 281.9 L358.5 282.7 L359.5 283.5 L360.4 284.3 L361.4 285.1 L362.4 285.9 L363.3 286.6 L364.3 287.4 L365.3 288.1 L366.3 288.9 L367.2 289.6 L368.2 290.3 L369.2 291.1 L370.1 291.8 L371.1 292.5 L372.1 293.2 L373.1 293.9 L374.0 294.6 L375.0 295.3 L376.0 295.9 L376.9 296.6 L377.9 297.3 L378.9 297.9 L379.8 298.6 L380.8 299.2 L381.8 299.8 L382.8 300.5 L383.7 301.1 L384.7 301.7 L385.7 302.3 L386.6 302.9 L387.6 303.5 L388.6 304.1 L389.6 304.7 L390.5 305.3 L391.5 305.9 L392.5 306.4 L393.4 307.0 L394.4 307.6 L395.4 308.1 L396.3 308.7 L397.3 309.2 L398.3 309.8 L399.3 310.3 L400.2 310.9 L401.2 311.4 L402.2 311.9 L403.1 312.4 L404.1 313.0 L405.1 313.5 L406.1 314.0 L407.0 314.5 L408.0 315.0 L409.0 315.5 L409.9 316.0 L410.9 316.5 L411.9 316.9 L412.8 317.4 L413.8 317.9 L414.8 318.4 L415.8 318.8 L416.7 319.3 L417.7 319.7 L418.7 320.2 L419.6 320.6 L420.6 321.1 L421.6 321.5 L422.6 321.9 L423.5 322.3 L424.5 322.8 L425.5 323.2 L426.4 323.6 L427.4 324.0 L428.4 324.4 L429.3 324.8 L430.3 325.2 L431.3 325.6 L432.3 326.0 L433.2 326.4 L434.2 326.7 L435.2 327.1 L436.1 327.5 L437.1 327.8 L438.1 328.2 L439.1 328.6 L440.0 328.9 L441.0 329.3 L442.0 329.6 L442.9 330.0 L443.9 330.3 L444.9 330.7 L445.8 331.0 L446.8 331.3 L447.8 331.7 L448.8 332.0 L449.7 332.3 L450.7 332.7 L451.7 333.0 L452.6 333.3 L453.6 333.6 L454.6 334.0 L455.6 334.3 L456.5 334.6 L457.5 334.9 L458.5 335.2 L459.4 335.5 L460.4 335.8 L461.4 336.1 L462.3 336.4 L463.3 336.8 L464.3 337.1 L465.3 337.4 L466.2 337.7 L467.2 338.0 L468.2 338.3 L469.1 338.6 L470.1 338.9 L471.1 339.2 L472.1 339.5 L473.0 339.8 L474.0 340.1 L475.0 340.4 L475.9 340.7 L476.9 341.0 L477.9 341.3 L478.8 341.6 L479.8 341.9 L480.8 342.2 L481.8 342.4 L482.7 342.7 L483.7 343.0 L484.7 343.3 L485.6 343.6 L486.6 343.9 L487.6 344.1 L488.6 344.4 L489.5 344.7 L490.5 345.0 L491.5 345.2 L492.4 345.5 L493.4 345.7 L494.4 346.0 L495.3 346.3 L496.3 346.5 L497.3 346.8 L498.3 347.0 L499.2 347.2 L500.2 347.5 L501.2 347.7 L502.1 348.0 L503.1 348.2 L504.1 348.4 L505.1 348.7 L506.0 348.9 L507.0 349.2 L508.0 349.4 L508.9 349.6 L509.9 349.9 L510.9 350.1 L511.8 350.3 L512.8 350.6 L513.8 350.8 L514.8 351.0 L515.7 351.3 L516.7 351.5 L517.7 351.8 L518.6 352.0 L519.6 352.2 L520.6 352.5 L521.6 352.7 L522.5 352.9 L523.5 353.1 L524.5 353.4 L525.4 353.6 L526.4 353.8 L527.4 354.0 L528.3 354.3 L529.3 354.5 L530.3 354.7 L531.3 354.9 L532.2 355.2 L533.2 355.4 L534.2 355.6 L535.1 355.8 L536.1 356.0 L537.1 356.2 L538.1 356.5 L539.0 356.7 L540.0 356.9 L541.0 357.1 L541.9 357.3 L542.9 357.5 L543.9 357.7 L544.8 357.9 L545.8 358.2 L546.8 358.4 L547.8 358.6 L548.7 358.8 L549.7 359.0 L550.7 359.2 L551.6 359.4 L552.6 359.6 L553.6 359.8 L554.6 360.0 L555.5 360.2 L556.5 360.4 L557.5 360.6 L558.4 360.8 L559.4 361.0 L560.4 361.2 L561.3 361.4 L562.3 361.6 L563.3 361.7 L564.3 361.9 L565.2 362.1 L566.2 362.3 L567.2 362.5 L568.1 362.7 L569.1 362.9 L570.1 363.1 L571.1 363.3 L572.0 363.4 L573.0 363.6 L574.0 363.8 L574.9 364.0 L575.9 364.2 L576.9 364.4 L577.8 364.5 L578.8 364.7 L579.8 364.9 L580.8 365.1 L581.7 365.3 L582.7 365.4 L583.7 365.6 L584.6 365.8 L585.6 366.0 L586.6 366.1 L587.6 366.3 L588.5 366.5 L589.5 366.7 L590.5 366.8 L591.4 367.0 L592.4 367.2 L593.4 367.4 L594.3 367.5 L595.3 367.7 L596.3 367.9 L597.3 368.0 L598.2 368.2 L599.2 368.4 L600.2 368.5 L601.1 368.7 L602.1 368.9 L603.1 369.0 L604.1 369.2 L605.0 369.4 L606.0 369.5 L607.0 369.7 L607.9 369.8 L608.9 370.0 L609.9 370.2 L610.8 370.3 L611.8 370.5 L612.8 370.6 L613.8 370.8 L614.7 371.0 L615.7 371.1 L616.7 371.3 L617.6 371.4 L618.6 371.6 L619.6 371.7 L620.6 371.9 L621.5 372.0 L622.5 372.2 L623.5 372.3 L624.4 372.5 L625.4 372.6 L626.4 372.8 L627.3 372.9 L628.3 373.1 L629.3 373.2 L630.3 373.4 L631.2 373.5 L632.2 373.7 L633.2 373.8 L634.1 374.0 L635.1 374.1 L636.1 374.2 L637.0 374.4 L638.0 374.5 L639.0 374.7 L640.0 374.8 L640.9 374.9 L641.9 375.1 L642.9 375.2 L643.8 375.4 L644.8 375.5 L645.8 375.6 L646.8 375.8 L647.7 375.9 L648.7 376.0 L649.7 376.2 L650.6 376.3 L651.6 376.4 L652.6 376.6 L653.5 376.7 L654.5 376.8 L655.5 377.0 L656.5 377.1 L657.4 377.2 L658.4 377.3 L659.4 377.5 L660.3 377.6 L661.3 377.7 L662.3 377.9 L663.3 378.0 L664.2 378.1 L665.2 378.2 L666.2 378.3 L667.1 378.5 L668.1 378.6 L669.1 378.7 L670.0 378.8 L671.0 379.0 L672.0 379.1 L673.0 379.2 L673.9 379.3 L674.9 379.4 L675.9 379.6 L676.8 379.7 L677.8 379.8 L678.8 379.9 L679.8 380.0 L680.7 380.1 L681.7 380.3 L682.7 380.4 L683.6 380.5 L684.6 380.6 L685.6 380.7 L686.5 380.8 L687.5 380.9 L688.5 381.0 L689.5 381.2 L690.4 381.3 L691.4 381.4 L692.4 381.5 L693.3 381.6 L694.3 381.7 L695.3 381.8 L696.3 381.9 L697.2 382.0 L698.2 382.1 L699.2 382.2 L700.1 382.4 L701.1 382.5 L702.1 382.6 L703.0 382.7 L704.0 382.8 L705.0 382.9 L706.0 383.0 L706.9 383.1 L707.9 383.2 L708.9 383.3 L709.8 383.4 L710.8 383.5 L711.8 383.6 L712.8 383.7 L713.7 383.8 L714.7 383.9 L715.7 384.0 L716.6 384.1 L717.6 384.2 L718.6 384.3 L719.5 384.4 L720.5 384.5 L721.5 384.6 L722.5 384.7 L723.4 384.8 L724.4 384.9 L725.4 385.0 L726.3 385.1 L727.3 385.2 L728.3 385.3 L729.3 385.4 L730.2 385.5 L731.2 385.6 L732.2 385.7 L733.1 385.8 L734.1 385.9 L735.1 386.0 L736.0 386.1 L737.0 386.2 L738.0 386.3 L739.0 386.4 L739.9 386.5 L740.9 386.6 L741.9 386.7 L742.8 386.8 L743.8 386.8 L744.8 386.9 L745.8 387.0 L746.7 387.1 L747.7 387.2 L748.7 387.3 L749.6 387.4 L750.6 387.5 L751.6 387.6 L752.5 387.7 L753.5 387.8 L754.5 387.9 L755.5 388.0 L756.4 388.0 L757.4 388.1 L758.4 388.2 L759.3 388.3 L760.3 388.4 L761.3 388.5 L762.3 388.6 L763.2 388.7 L764.2 388.8 L765.2 388.9 L766.1 388.9 L767.1 389.0 L768.1 389.1 L769.0 389.2 L770.0 389.3 L771.0 389.4 L772.0 389.5 L772.9 389.6 L773.9 389.7 L774.9 389.7 L775.8 389.8 L776.8 389.9 L777.8 390.0 L778.8 390.1 L779.7 390.2 L780.7 390.3 L781.7 390.4 L782.6 390.4 L783.6 390.5 L784.6 390.6 L785.5 390.7 L786.5 390.8 L787.5 390.9 L788.5 391.0 L789.4 391.1 L790.4 391.2" stroke="#000000"/>
<path d="M138.4 412.9 L160.0 412.9 L161.0 412.9 L161.9 412.9 L162.9 412.9 L163.9 412.9 L164.9 412.9 L165.8 412.9 L166.8 412.9 L167.8 412.9 L168.7 412.9 L169.7 412.9 L170.7 412.9 L171.7 412.9 L172.6 412.9 L173.6 412.9 L174.6 412.9 L175.5 412.9 L176.5 412.9 L177.5 412.9 L178.5 412.9 L179.4 412.9 L180.4 412.9 L181.4 412.9 L182.3 412.9 L183.3 412.9 L184.3 412.9 L185.3 413.0 L186.2 413.0 L187.2 413.0 L188.2 413.0 L189.1 413.0 L190.1 413.1 L191.1 413.1 L192.1 413.1 L193.0 413.2 L194.0 413.2 L195.0 413.3 L195.9 413.3 L196.9 413.4 L197.9 413.4 L198.9 413.5 L199.8 413.6 L200.8 413.7 L201.8 413.8 L202.7 413.9 L203.7 414.0 L204.7 414.1 L205.7 414.2 L206.6 414.4 L207.6 414.5 L208.6 414.7 L209.5 414.8 L210.5 415.0 L211.5 415.2 L212.5 415.4 L213.4 415.6 L214.4 415.9 L215.4 416.1 L216.3 416.3 L217.3 416.6 L218.3 416.8 L219.3 417.1 L220.2 417.4 L221.2 417.7 L222.2 418.0 L223.1 418.3 L224.1 418.6 L225.1 419.0 L226.1 419.3 L227.0 419.7 L228.0 420.1 L229.0 420.5 L229.9 420.9 L230.9 421.3 L231.9 421.7 L232.9 422.1 L233.8 422.6 L234.8 423.0 L235.8 423.4 L236.7 423.9 L237.7 424.4 L238.7 424.8 L239.6 425.3 L240.6 425.8 L241.6 426.3 L242.6 426.8 L243.5 427.3 L244.5 427.8 L245.5 428.3 L246.4 428.8 L247.4 429.4 L248.4 429.9 L249.4 430.4 L250.3 431.0 L251.3 431.5 L252.3 432.1 L253.2 432.6 L254.2 433.2 L255.2 433.7 L256.2 434.3 L257.1 434.8 L258.1 435.4 L259.1 435.9 L260.0 436.5 L261.0 437.0 L262.0 437.6 L263.0 438.1 L263.9 438.7 L264.9 439.2 L265.9 439.7 L266.8 440.3 L267.8 440.8 L268.8 441.4 L269.8 441.9 L270.7 442.4 L271.7 443.0 L272.7 443.5 L273.6 444.0 L274.6 444.6 L275.6 445.1 L276.6 445.6 L277.5 446.2 L278.5 446.7 L279.5 447.2 L280.4 447.7 L281.4 448.2 L282.4 448.7 L283.4 449.2 L284.3 449.7 L285.3 450.2 L286.3 450.7 L287.2 451.2 L288.2 451.7 L289.2 452.2 L290.2 452.7 L291.1 453.1 L292.1 453.6 L293.1 454.1 L294.0 454.5 L295.0 454.9 L296.0 455.4 L297.0 455.8 L297.9 456.2 L298.9 456.6 L299.9 457.0 L300.8 457.3 L301.8 457.7 L302.8 458.1 L303.8 458.4 L304.7 458.7 L305.7 459.1 L306.7 459.4 L307.6 459.7 L308.6 460.0 L309.6 460.3 L310.6 460.6 L311.5 460.9 L312.5 461.2 L313.5 461.5 L314.4 461.8 L315.4 462.1 L316.4 462.4 L317.4 462.7 L318.3 463.0 L319.3 463.3 L320.3 463.6 L321.2 463.8 L322.2 464.1 L323.2 464.3 L324.2 464.6 L325.1 464.8 L326.1 465.0 L327.1 465.3 L328.0 465.5 L329.0 465.7 L330.0 465.9 L331.0 466.0 L331.9 466.2 L332.9 466.4 L333.9 466.5 L334.8 466.7 L335.8 466.8 L336.8 466.9 L337.8 467.1 L338.7 467.2 L339.7 467.3 L340.7 467.4 L341.6 467.5 L342.6 467.6 L343.6 467.7 L344.6 467.8 L345.5 467.9 L346.5 468.0 L347.5 468.1 L348.4 468.2 L349.4 468.3 L350.4 468.4 L351.4 468.4 L352.3 468.5 L353.3 468.6 L354.3 468.7 L355.2 468.7 L356.2 468.8 L357.2 468.8 L358.2 468.9 L359.1 468.9 L360.1 469.0 L361.1 469.0 L362.0 469.0 L363.0 469.0 L364.0 469.1 L365.0 469.1 L365.9 469.1 L366.9 469.1 L367.9 469.1 L368.8 469.1 L369.8 469.1 L370.8 469.1 L371.8 469.1 L372.7 469.0 L373.7 469.0 L374.7 469.0 L375.6 469.0 L376.6 468.9 L377.6 468.9 L378.6 468.8 L379.5 468.8 L380.5 468.8 L381.5 468.7 L382.4 468.6 L383.4 468.6 L384.4 468.5 L385.4 468.5 L386.3 468.4 L387.3 468.3 L388.3 468.3 L389.2 468.2 L390.2 468.1 L391.2 468.0 L392.2 468.0 L393.1 467.9 L394.1 467.8 L395.1 467.7 L396.0 467.6 L397.0 467.5 L398.0 467.4 L398.9 467.4 L399.9 467.3 L400.9 467.2 L401.9 467.1 L402.8 467.0 L403.8 466.9 L404.8 466.8 L405.7 466.7 L406.7 466.6 L407.7 466.5 L408.7 466.4 L409.6 466.3 L410.6 466.2 L411.6 466.1 L412.5 466.0 L413.5 465.9 L414.5 465.8 L415.5 465.7 L416.4 465.6 L417.4 465.5 L418.4 465.3 L419.3 465.2 L420.3 465.1 L421.3 465.0 L422.3 464.9 L423.2 464.8 L424.2 464.7 L425.2 464.6 L426.1 464.5 L427.1 464.3 L428.1 464.2 L429.1 464.1 L430.0 464.0 L431.0 463.9 L432.0 463.8 L432.9 463.7 L433.9 463.5 L434.9 463.4 L435.9 463.3 L436.8 463.2 L437.8 463.1 L438.8 463.0 L439.7 462.9 L440.7 462.8 L441.7 462.6 L442.7 462.5 L443.6 462.4 L444.6 462.3 L445.6 462.2 L446.5 462.1 L447.5 462.0 L448.5 461.8 L449.5 461.7 L450.4 461.6 L451.4 461.5 L452.4 461.4 L453.3 461.3 L454.3 461.2 L455.3 461.0 L456.3 460.9 L457.2 460.8 L458.2 460.7 L459.2 460.6 L460.1 460.5 L461.1 460.4 L462.1 460.2 L463.1 460.1 L464.0 460.0 L465.0 459.9 L466.0 459.8 L466.9 459.6 L467.9 459.5 L468.9 459.4 L469.9 459.3 L470.8 459.1 L471.8 459.0 L472.8 458.9 L473.7 458.7 L474.7 458.6 L475.7 458.5 L476.7 458.3 L477.6 458.2 L478.6 458.1 L479.6 457.9 L480.5 457.8 L481.5 457.6 L482.5 457.5 L483.5 457.3 L484.4 457.2 L485.4 457.1 L486.4 456.9 L487.3 456.8 L488.3 456.6 L489.3 456.5 L490.3 456.3 L491.2 456.2 L492.2 456.0 L493.2 455.9 L494.1 455.7 L495.1 455.6 L496.1 455.4 L497.1 455.3 L498.0 455.2 L499.0 455.0 L500.0 454.9 L500.9 454.7 L501.9 454.6 L502.9 454.4 L503.9 454.3 L504.8 454.1 L505.8 454.0 L506.8 453.9 L507.7 453.7 L508.7 453.6 L509.7 453.4 L510.7 453.3 L511.6 453.2 L512.6 453.0 L513.6 452.9 L514.5 452.7 L515.5 452.6 L516.5 452.5 L517.5 452.3 L518.4 452.2 L519.4 452.0 L520.4 451.9 L521.3 451.8 L522.3 451.6 L523.3 451.5 L524.3 451.4 L525.2 451.2 L526.2 451.1 L527.2 451.0 L528.1 450.8 L529.1 450.7 L530.1 450.5 L531.1 450.4 L532.0 450.3 L533.0 450.1 L534.0 450.0 L534.9 449.9 L535.9 449.7 L536.9 449.6 L537.9 449.5 L538.8 449.4 L539.8 449.2 L540.8 449.1 L541.7 449.0 L542.7 448.8 L543.7 448.7 L544.7 448.6 L545.6 448.4 L546.6 448.3 L547.6 448.2 L548.5 448.1 L549.5 447.9 L550.5 447.8 L551.5 447.7 L552.4 447.6 L553.4 447.4 L554.4 447.3 L555.3 447.2 L556.3 447.1 L557.3 446.9 L558.2 446.8 L559.2 446.7 L560.2 446.6 L561.2 446.4 L562.1 446.3 L563.1 446.2 L564.1 446.1 L565.0 445.9 L566.0 445.8 L567.0 445.7 L568.0 445.6 L568.9 445.5 L569.9 445.3 L570.9 445.2 L571.8 445.1 L572.8 445.0 L573.8 444.9 L574.8 444.7 L575.7 444.6 L576.7 444.5 L577.7 444.4 L578.6 444.3 L579.6 444.1 L580.6 444.0 L581.6 443.9 L582.5 443.8 L583.5 443.7 L584.5 443.6 L585.4 443.4 L586.4 443.3 L587.4 443.2 L588.4 443.1 L589.3 443.0 L590.3 442.9 L591.3 442.7 L592.2 442.6 L593.2 442.5 L594.2 442.4 L595.2 442.3 L596.1 442.2 L597.1 442.1 L598.1 441.9 L599.0 441.8 L600.0 441.7 L601.0 441.6 L602.0 441.5 L602.9 441.4 L603.9 441.3 L604.9 441.2 L605.8 441.1 L606.8 441.0 L607.8 440.8 L608.8 440.7 L609.7 440.6 L610.7 440.5 L611.7 440.4 L612.6 440.3 L613.6 440.2 L614.6 440.1 L615.6 440.0 L616.5 439.9 L617.5 439.8 L618.5 439.7 L619.4 439.6 L620.4 439.5 L621.4 439.4 L622.4 439.3 L623.3 439.2 L624.3 439.1 L625.3 439.0 L626.2 438.9 L627.2 438.8 L628.2 438.7 L629.2 438.6 L630.1 438.5 L631.1 438.4 L632.1 438.3 L633.0 438.2 L634.0 438.1 L635.0 438.0 L636.0 437.9 L636.9 437.8 L637.9 437.7 L638.9 437.6 L639.8 437.5 L640.8 437.4 L641.8 437.3 L642.8 437.2 L643.7 437.1 L644.7 437.1 L645.7 437.0 L646.6 436.9 L647.6 436.8 L648.6 436.7 L649.6 436.6 L650.5 436.5 L651.5 436.4 L652.5 436.3 L653.4 436.3 L654.4 436.2 L655.4 436.1 L656.4 436.0 L657.3 435.9 L658.3 435.8 L659.3 435.7 L660.2 435.7 L661.2 435.6 L662.2 435.5 L663.2 435.4 L664.1 435.3 L665.1 435.2 L666.1 435.2 L667.0 435.1 L668.0 435.0 L669.0 434.9 L670.0 434.9 L670.9 434.8 L671.9 434.7 L672.9 434.6 L673.8 434.5 L674.8 434.5 L675.8 434.4 L676.8 434.3 L677.7 434.2 L678.7 434.2 L679.7 434.1 L680.6 434.0 L681.6 433.9 L682.6 433.9 L683.6 433.8 L684.5 433.7 L685.5 433.7 L686.5 433.6 L687.4 433.5 L688.4 433.4 L689.4 433.4 L690.4 433.3 L691.3 433.2 L692.3 433.2 L693.3 433.1 L694.2 433.0 L695.2 433.0 L696.2 432.9 L697.2 432.8 L698.1 432.8 L699.1 432.7 L700.1 432.7 L701.0 432.6 L702.0 432.5 L703.0 432.5 L704.0 432.4 L704.9 432.3 L705.9 432.3 L706.9 432.2 L707.8 432.1 L708.8 432.1 L709.8 432.0 L710.8 432.0 L711.7 431.9 L712.7 431.8 L713.7 431.8 L714.6 431.7 L715.6 431.7 L716.6 431.6 L717.5 431.6 L718.5 431.5 L719.5 431.4 L720.5 431.4 L721.4 431.3 L722.4 431.3 L723.4 431.2 L724.3 431.2 L725.3 431.1 L726.3 431.0 L727.3 431.0 L728.2 430.9 L729.2 430.9 L730.2 430.8 L731.1 430.8 L732.1 430.7 L733.1 430.7 L734.1 430.6 L735.0 430.5 L736.0 430.5 L737.0 430.4 L737.9 430.4 L738.9 430.3 L739.9 430.3 L740.9 430.2 L741.8 430.2 L742.8 430.1 L743.8 430.1 L744.7 430.0 L745.7 430.0 L746.7 429.9 L747.7 429.9 L748.6 429.8 L749.6 429.8 L750.6 429.7 L751.5 429.7 L752.5 429.6 L753.5 429.6 L754.5 429.5 L755.4 429.4 L756.4 429.4 L757.4 429.3 L758.3 429.3 L759.3 429.2 L760.3 429.2 L761.3 429.1 L762.2 429.1 L763.2 429.0 L764.2 429.0 L765.1 428.9 L766.1 428.9 L767.1 428.8 L768.1 428.8 L769.0 428.7 L770.0 428.7 L771.0 428.6 L771.9 428.6 L772.9 428.5 L773.9 428.5 L774.9 428.5 L775.8 428.4 L776.8 428.4 L777.8 428.3 L778.7 428.3 L779.7 428.2 L780.7 428.2 L781.7 428.1 L782.6 428.1 L783.6 428.0 L784.6 428.0 L785.5 427.9 L786.5 427.9 L787.5 427.8 L788.5 427.8 L789.4 427.7 L790.4 427.7" stroke="#ff0000" stroke-dasharray="9.1 7.5" stroke-dashoffset="0.7"/>
<path d="M138.4 412.9 L160.0 412.9 L161.0 412.9 L161.9 412.9 L162.9 412.9 L163.9 412.9 L164.9 412.9 L165.8 412.9 L166.8 412.9 L167.8 412.9 L168.7 412.9 L169.7 412.9 L170.7 412.9 L171.7 412.9 L172.6 412.9 L173.6 412.9 L174.6 412.9 L175.5 412.9 L176.5 412.9 L177.5 412.9 L178.5 412.9 L179.4 412.9 L180.4 412.9 L181.4 412.9 L182.3 412.9 L183.3 412.9 L184.3 412.9 L185.3 413.0 L186.2 413.0 L187.2 413.0 L188.2 413.0 L189.1 413.1 L190.1 413.1 L191.1 413.1 L192.1 413.2 L193.0 413.2 L194.0 413.3 L195.0 413.4 L195.9 413.5 L196.9 413.6 L197.9 413.7 L198.9 413.8 L199.8 413.9 L200.8 414.0 L201.8 414.1 L202.7 414.2 L203.7 414.4 L204.7 414.5 L205.7 414.7 L206.6 414.9 L207.6 415.0 L208.6 415.3 L209.5 415.5 L210.5 415.7 L211.5 416.0 L212.5 416.3 L213.4 416.6 L214.4 416.9 L215.4 417.3 L216.3 417.6 L217.3 418.0 L218.3 418.3 L219.3 418.7 L220.2 419.1 L221.2 419.5 L222.2 420.0 L223.1 420.4 L224.1 420.9 L225.1 421.4 L226.1 421.9 L227.0 422.4 L228.0 423.0 L229.0 423.5 L229.9 424.1 L230.9 424.7 L231.9 425.3 L232.9 425.9 L233.8 426.6 L234.8 427.2 L235.8 427.9 L236.7 428.6 L237.7 429.3 L238.7 430.0 L239.6 430.8 L240.6 431.5 L241.6 432.3 L242.6 433.1 L243.5 433.9 L244.5 434.6 L245.5 435.4 L246.4 436.2 L247.4 437.1 L248.4 437.9 L249.4 438.7 L250.3 439.5 L251.3 440.3 L252.3 441.2 L253.2 442.0 L254.2 442.8 L255.2 443.7 L256.2 444.5 L257.1 445.3 L258.1 446.1 L259.1 447.0 L260.0 447.8 L261.0 448.6 L262.0 449.5 L263.0 450.3 L263.9 451.1 L264.9 452.0 L265.9 452.8 L266.8 453.6 L267.8 454.5 L268.8 455.3 L269.8 456.1 L270.7 456.9 L271.7 457.7 L272.7 458.5 L273.6 459.4 L274.6 460.1 L275.6 460.9 L276.6 461.7 L277.5 462.5 L278.5 463.2 L279.5 464.0 L280.4 464.7 L281.4 465.5 L282.4 466.2 L283.4 466.9 L284.3 467.6 L285.3 468.3 L286.3 469.0 L287.2 469.6 L288.2 470.3 L289.2 470.9 L290.2 471.6 L291.1 472.2 L292.1 472.8 L293.1 473.4 L294.0 474.0 L295.0 474.6 L296.0 475.2 L297.0 475.7 L297.9 476.3 L298.9 476.8 L299.9 477.4 L300.8 477.9 L301.8 478.5 L302.8 479.0 L303.8 479.5 L304.7 480.0 L305.7 480.5 L306.7 481.0 L307.6 481.5 L308.6 482.0 L309.6 482.5 L310.6 483.0 L311.5 483.5 L312.5 483.9 L313.5 484.4 L314.4 484.8 L315.4 485.3 L316.4 485.7 L317.4 486.1 L318.3 486.5 L319.3 486.9 L320.3 487.3 L321.2 487.7 L322.2 488.0 L323.2 488.4 L324.2 488.7 L325.1 489.0 L326.1 489.3 L327.1 489.6 L328.0 489.9 L329.0 490.1 L330.0 490.4 L331.0 490.6 L331.9 490.9 L332.9 491.1 L333.9 491.3 L334.8 491.5 L335.8 491.6 L336.8 491.8 L337.8 492.0 L338.7 492.1 L339.7 492.3 L340.7 492.4 L341.6 492.5 L342.6 492.7 L343.6 492.8 L344.6 492.9 L345.5 493.0 L346.5 493.1 L347.5 493.2 L348.4 493.3 L349.4 493.4 L350.4 493.5 L351.4 493.6 L352.3 493.6 L353.3 493.7 L354.3 493.8 L355.2 493.8 L356.2 493.9 L357.2 493.9 L358.2 493.9 L359.1 494.0 L360.1 494.0 L361.1 494.0 L362.0 494.0 L363.0 494.0 L364.0 494.0 L365.0 494.0 L365.9 494.0 L366.9 494.0 L367.9 494.0 L368.8 493.9 L369.8 493.9 L370.8 493.8 L371.8 493.8 L372.7 493.7 L373.7 493.7 L374.7 493.6 L375.6 493.6 L376.6 493.5 L377.6 493.4 L378.6 493.3 L379.5 493.2 L380.5 493.1 L381.5 493.0 L382.4 492.9 L383.4 492.8 L384.4 492.7 L385.4 492.6 L386.3 492.5 L387.3 492.4 L388.3 492.3 L389.2 492.1 L390.2 492.0 L391.2 491.9 L392.2 491.7 L393.1 491.6 L394.1 491.5 L395.1 491.3 L396.0 491.2 L397.0 491.0 L398.0 490.9 L398.9 490.7 L399.9 490.5 L400.9 490.4 L401.9 490.2 L402.8 490.1 L403.8 489.9 L404.8 489.7 L405.7 489.6 L406.7 489.4 L407.7 489.2 L408.7 489.0 L409.6 488.8 L410.6 488.7 L411.6 488.5 L412.5 488.3 L413.5 488.1 L414.5 487.9 L415.5 487.7 L416.4 487.6 L417.4 487.4 L418.4 487.2 L419.3 487.0 L420.3 486.8 L421.3 486.6 L422.3 486.4 L423.2 486.2 L424.2 486.0 L425.2 485.8 L426.1 485.6 L427.1 485.5 L428.1 485.3 L429.1 485.1 L430.0 484.9 L431.0 484.7 L432.0 484.5 L432.9 484.3 L433.9 484.1 L434.9 483.9 L435.9 483.7 L436.8 483.5 L437.8 483.3 L438.8 483.1 L439.7 482.9 L440.7 482.7 L441.7 482.5 L442.7 482.3 L443.6 482.1 L444.6 481.9 L445.6 481.7 L446.5 481.5 L447.5 481.3 L448.5 481.1 L449.5 481.0 L450.4 480.8 L451.4 480.6 L452.4 480.4 L453.3 480.2 L454.3 480.0 L455.3 479.8 L456.3 479.6 L457.2 479.4 L458.2 479.2 L459.2 479.0 L460.1 478.8 L461.1 478.6 L462.1 478.4 L463.1 478.2 L464.0 478.1 L465.0 477.9 L466.0 477.7 L466.9 477.5 L467.9 477.3 L468.9 477.1 L469.9 476.9 L470.8 476.7 L471.8 476.5 L472.8 476.4 L473.7 476.2 L474.7 476.0 L475.7 475.8 L476.7 475.6 L477.6 475.4 L478.6 475.2 L479.6 475.0 L480.5 474.8 L481.5 474.7 L482.5 474.5 L483.5 474.3 L484.4 474.1 L485.4 473.9 L486.4 473.7 L487.3 473.5 L488.3 473.3 L489.3 473.1 L490.3 472.9 L491.2 472.7 L492.2 472.5 L493.2 472.3 L494.1 472.1 L495.1 471.9 L496.1 471.7 L497.1 471.5 L498.0 471.3 L499.0 471.1 L500.0 470.9 L500.9 470.7 L501.9 470.5 L502.9 470.3 L503.9 470.1 L504.8 469.9 L505.8 469.7 L506.8 469.5 L507.7 469.3 L508.7 469.1 L509.7 468.9 L510.7 468.8 L511.6 468.6 L512.6 468.4 L513.6 468.2 L514.5 468.0 L515.5 467.8 L516.5 467.6 L517.5 467.4 L518.4 467.2 L519.4 467.0 L520.4 466.8 L521.3 466.6 L522.3 466.4 L523.3 466.2 L524.3 466.1 L525.2 465.9 L526.2 465.7 L527.2 465.5 L528.1 465.3 L529.1 465.1 L530.1 464.9 L531.1 464.7 L532.0 464.6 L533.0 464.4 L534.0 464.2 L534.9 464.0 L535.9 463.8 L536.9 463.6 L537.9 463.5 L538.8 463.3 L539.8 463.1 L540.8 462.9 L541.7 462.7 L542.7 462.6 L543.7 462.4 L544.7 462.2 L545.6 462.0 L546.6 461.8 L547.6 461.7 L548.5 461.5 L549.5 461.3 L550.5 461.1 L551.5 461.0 L552.4 460.8 L553.4 460.6 L554.4 460.4 L555.3 460.3 L556.3 460.1 L557.3 459.9 L558.2 459.7 L559.2 459.6 L560.2 459.4 L561.2 459.2 L562.1 459.1 L563.1 458.9 L564.1 458.7 L565.0 458.6 L566.0 458.4 L567.0 458.2 L568.0 458.1 L568.9 457.9 L569.9 457.7 L570.9 457.6 L571.8 457.4 L572.8 457.2 L573.8 457.1 L574.8 456.9 L575.7 456.8 L576.7 456.6 L577.7 456.4 L578.6 456.3 L579.6 456.1 L580.6 456.0 L581.6 455.8 L582.5 455.6 L583.5 455.5 L584.5 455.3 L585.4 455.2 L586.4 455.0 L587.4 454.9 L588.4 454.7 L589.3 454.6 L590.3 454.4 L591.3 454.3 L592.2 454.1 L593.2 454.0 L594.2 453.8 L595.2 453.7 L596.1 453.5 L597.1 453.4 L598.1 453.2 L599.0 453.1 L600.0 452.9 L601.0 452.8 L602.0 452.6 L602.9 452.5 L603.9 452.3 L604.9 452.2 L605.8 452.0 L606.8 451.9 L607.8 451.8 L608.8 451.6 L609.7 451.5 L610.7 451.3 L611.7 451.2 L612.6 451.0 L613.6 450.9 L614.6 450.8 L615.6 450.6 L616.5 450.5 L617.5 450.4 L618.5 450.2 L619.4 450.1 L620.4 449.9 L621.4 449.8 L622.4 449.7 L623.3 449.5 L624.3 449.4 L625.3 449.3 L626.2 449.1 L627.2 449.0 L628.2 448.9 L629.2 448.7 L630.1 448.6 L631.1 448.5 L632.1 448.4 L633.0 448.2 L634.0 448.1 L635.0 448.0 L636.0 447.8 L636.9 447.7 L637.9 447.6 L638.9 447.5 L639.8 447.3 L640.8 447.2 L641.8 447.1 L642.8 447.0 L643.7 446.8 L644.7 446.7 L645.7 446.6 L646.6 446.5 L647.6 446.3 L648.6 446.2 L649.6 446.1 L650.5 446.0 L651.5 445.9 L652.5 445.7 L653.4 445.6 L654.4 445.5 L655.4 445.4 L656.4 445.3 L657.3 445.1 L658.3 445.0 L659.3 444.9 L660.2 444.8 L661.2 444.7 L662.2 444.6 L663.2 444.5 L664.1 444.3 L665.1 444.2 L666.1 444.1 L667.0 444.0 L668.0 443.9 L669.0 443.8 L670.0 443.7 L670.9 443.6 L671.9 443.5 L672.9 443.3 L673.8 443.2 L674.8 443.1 L675.8 443.0 L676.8 442.9 L677.7 442.8 L678.7 442.7 L679.7 442.6 L680.6 442.5 L681.6 442.4 L682.6 442.3 L683.6 442.2 L684.5 442.1 L685.5 442.0 L686.5 441.9 L687.4 441.8 L688.4 441.7 L689.4 441.6 L690.4 441.5 L691.3 441.4 L692.3 441.3 L693.3 441.2 L694.2 441.1 L695.2 441.0 L696.2 440.9 L697.2 440.8 L698.1 440.7 L699.1 440.6 L700.1 440.5 L701.0 440.4 L702.0 440.3 L703.0 440.2 L704.0 440.2 L704.9 440.1 L705.9 440.0 L706.9 439.9 L707.8 439.8 L708.8 439.7 L709.8 439.6 L710.8 439.5 L711.7 439.4 L712.7 439.3 L713.7 439.3 L714.6 439.2 L715.6 439.1 L716.6 439.0 L717.5 438.9 L718.5 438.8 L719.5 438.7 L720.5 438.7 L721.4 438.6 L722.4 438.5 L723.4 438.4 L724.3 438.3 L725.3 438.2 L726.3 438.1 L727.3 438.1 L728.2 438.0 L729.2 437.9 L730.2 437.8 L731.1 437.7 L732.1 437.7 L733.1 437.6 L734.1 437.5 L735.0 437.4 L736.0 437.3 L737.0 437.3 L737.9 437.2 L738.9 437.1 L739.9 437.0 L740.9 436.9 L741.8 436.9 L742.8 436.8 L743.8 436.7 L744.7 436.6 L745.7 436.5 L746.7 436.5 L747.7 436.4 L748.6 436.3 L749.6 436.2 L750.6 436.2 L751.5 436.1 L752.5 436.0 L753.5 435.9 L754.5 435.9 L755.4 435.8 L756.4 435.7 L757.4 435.6 L758.3 435.6 L759.3 435.5 L760.3 435.4 L761.3 435.3 L762.2 435.3 L763.2 435.2 L764.2 435.1 L765.1 435.0 L766.1 435.0 L767.1 434.9 L768.1 434.8 L769.0 434.7 L770.0 434.7 L771.0 434.6 L771.9 434.5 L772.9 434.4 L773.9 434.4 L774.9 434.3 L775.8 434.2 L776.8 434.2 L777.8 434.1 L778.7 434.0 L779.7 433.9 L780.7 433.9 L781.7 433.8 L782.6 433.7 L783.6 433.6 L784.6 433.6 L785.5 433.5 L786.5 433.4 L787.5 433.4 L788.5 433.3 L789.4 433.2 L790.4 433.1" stroke="#00ff00" stroke-dasharray="9.1 7.5" stroke-dashoffset="0.7"/>
<path d="M138.4 412.9 L160.0 412.9 L161.0 412.9 L161.9 412.9 L162.9 412.9 L163.9 412.9 L164.9 412.9 L165.8 412.9 L166.8 412.9 L167.8 412.9 L168.7 412.9 L169.7 412.9 L170.7 412.9 L171.7 412.9 L172.6 412.9 L173.6 412.9 L174.6 412.9 L175.5 412.9 L176.5 412.9 L177.5 412.9 L178.5 412.9 L179.4 412.9 L180.4 412.9 L181.4 412.9 L182.3 412.9 L183.3 412.9 L184.3 412.9 L185.3 413.0 L186.2 413.0 L187.2 413.0 L188.2 413.0 L189.1 413.1 L190.1 413.1 L191.1 413.1 L192.1 413.2 L193.0 413.2 L194.0 413.3 L195.0 413.4 L195.9 413.5 L196.9 413.6 L197.9 413.7 L198.9 413.8 L199.8 413.9 L200.8 414.0 L201.8 414.1 L202.7 414.2 L203.7 414.3 L204.7 414.5 L205.7 414.6 L206.6 414.8 L207.6 415.0 L208.6 415.2 L209.5 415.4 L210.5 415.6 L211.5 415.8 L212.5 416.1 L213.4 416.4 L214.4 416.7 L215.4 417.0 L216.3 417.3 L217.3 417.6 L218.3 418.0 L219.3 418.3 L220.2 418.7 L221.2 419.1 L222.2 419.5 L223.1 419.9 L224.1 420.3 L225.1 420.8 L226.1 421.2 L227.0 421.7 L228.0 422.2 L229.0 422.8 L229.9 423.3 L230.9 423.9 L231.9 424.5 L232.9 425.1 L233.8 425.7 L234.8 426.4 L235.8 427.0 L236.7 427.7 L237.7 428.4 L238.7 429.1 L239.6 429.9 L240.6 430.6 L241.6 431.4 L242.6 432.2 L243.5 433.0 L244.5 433.8 L245.5 434.6 L246.4 435.4 L247.4 436.2 L248.4 437.0 L249.4 437.9 L250.3 438.7 L251.3 439.5 L252.3 440.4 L253.2 441.2 L254.2 442.0 L255.2 442.9 L256.2 443.7 L257.1 444.6 L258.1 445.4 L259.1 446.3 L260.0 447.2 L261.0 448.0 L262.0 448.9 L263.0 449.8 L263.9 450.7 L264.9 451.6 L265.9 452.4 L266.8 453.3 L267.8 454.2 L268.8 455.1 L269.8 456.0 L270.7 457.0 L271.7 457.9 L272.7 458.8 L273.6 459.7 L274.6 460.6 L275.6 461.4 L276.6 462.3 L277.5 463.2 L278.5 464.1 L279.5 465.0 L280.4 465.8 L281.4 466.7 L282.4 467.5 L283.4 468.4 L284.3 469.2 L285.3 470.0 L286.3 470.8 L287.2 471.6 L288.2 472.4 L289.2 473.2 L290.2 474.0 L291.1 474.7 L292.1 475.5 L293.1 476.2 L294.0 476.9 L295.0 477.7 L296.0 478.4 L297.0 479.1 L297.9 479.8 L298.9 480.5 L299.9 481.2 L300.8 481.9 L301.8 482.6 L302.8 483.3 L303.8 484.0 L304.7 484.7 L305.7 485.4 L306.7 486.1 L307.6 486.8 L308.6 487.5 L309.6 488.2 L310.6 488.9 L311.5 489.5 L312.5 490.2 L313.5 490.9 L314.4 491.5 L315.4 492.2 L316.4 492.8 L317.4 493.5 L318.3 494.1 L319.3 494.7 L320.3 495.3 L321.2 495.9 L322.2 496.4 L323.2 497.0 L324.2 497.5 L325.1 498.1 L326.1 498.6 L327.1 499.1 L328.0 499.6 L329.0 500.0 L330.0 500.5 L331.0 500.9 L331.9 501.3 L332.9 501.7 L333.9 502.1 L334.8 502.5 L335.8 502.9 L336.8 503.2 L337.8 503.6 L338.7 503.9 L339.7 504.2 L340.7 504.5 L341.6 504.8 L342.6 505.1 L343.6 505.4 L344.6 505.7 L345.5 506.0 L346.5 506.2 L347.5 506.5 L348.4 506.8 L349.4 507.0 L350.4 507.3 L351.4 507.5 L352.3 507.8 L353.3 508.0 L354.3 508.2 L355.2 508.4 L356.2 508.7 L357.2 508.9 L358.2 509.1 L359.1 509.3 L360.1 509.4 L361.1 509.6 L362.0 509.8 L363.0 510.0 L364.0 510.1 L365.0 510.3 L365.9 510.4 L366.9 510.6 L367.9 510.7 L368.8 510.8 L369.8 511.0 L370.8 511.1 L371.8 511.2 L372.7 511.3 L373.7 511.4 L374.7 511.5 L375.6 511.6 L376.6 511.6 L377.6 511.7 L378.6 511.8 L379.5 511.9 L380.5 511.9 L381.5 512.0 L382.4 512.0 L383.4 512.1 L384.4 512.1 L385.4 512.1 L386.3 512.2 L387.3 512.2 L388.3 512.2 L389.2 512.2 L390.2 512.2 L391.2 512.2 L392.2 512.2 L393.1 512.2 L394.1 512.2 L395.1 512.1 L396.0 512.1 L397.0 512.1 L398.0 512.0 L398.9 512.0 L399.9 512.0 L400.9 511.9 L401.9 511.8 L402.8 511.8 L403.8 511.7 L404.8 511.6 L405.7 511.6 L406.7 511.5 L407.7 511.4 L408.7 511.3 L409.6 511.2 L410.6 511.1 L411.6 511.0 L412.5 510.9 L413.5 510.8 L414.5 510.7 L415.5 510.6 L416.4 510.4 L417.4 510.3 L418.4 510.2 L419.3 510.1 L420.3 509.9 L421.3 509.8 L422.3 509.6 L423.2 509.5 L424.2 509.4 L425.2 509.2 L426.1 509.0 L427.1 508.9 L428.1 508.7 L429.1 508.6 L430.0 508.4 L431.0 508.2 L432.0 508.1 L432.9 507.9 L433.9 507.7 L434.9 507.5 L435.9 507.3 L436.8 507.2 L437.8 507.0 L438.8 506.8 L439.7 506.6 L440.7 506.4 L441.7 506.2 L442.7 506.0 L443.6 505.8 L444.6 505.6 L445.6 505.4 L446.5 505.2 L447.5 505.0 L448.5 504.8 L449.5 504.6 L450.4 504.4 L451.4 504.1 L452.4 503.9 L453.3 503.7 L454.3 503.5 L455.3 503.3 L456.3 503.1 L457.2 502.9 L458.2 502.6 L459.2 502.4 L460.1 502.2 L461.1 502.0 L462.1 501.8 L463.1 501.6 L464.0 501.4 L465.0 501.1 L466.0 500.9 L466.9 500.7 L467.9 500.5 L468.9 500.3 L469.9 500.0 L470.8 499.8 L471.8 499.6 L472.8 499.4 L473.7 499.2 L474.7 498.9 L475.7 498.7 L476.7 498.5 L477.6 498.3 L478.6 498.0 L479.6 497.8 L480.5 497.6 L481.5 497.4 L482.5 497.1 L483.5 496.9 L484.4 496.7 L485.4 496.5 L486.4 496.2 L487.3 496.0 L488.3 495.8 L489.3 495.5 L490.3 495.3 L491.2 495.1 L492.2 494.9 L493.2 494.6 L494.1 494.4 L495.1 494.2 L496.1 494.0 L497.1 493.7 L498.0 493.5 L499.0 493.3 L500.0 493.1 L500.9 492.9 L501.9 492.6 L502.9 492.4 L503.9 492.2 L504.8 492.0 L505.8 491.8 L506.8 491.5 L507.7 491.3 L508.7 491.1 L509.7 490.9 L510.7 490.6 L511.6 490.4 L512.6 490.2 L513.6 490.0 L514.5 489.8 L515.5 489.5 L516.5 489.3 L517.5 489.1 L518.4 488.9 L519.4 488.7 L520.4 488.4 L521.3 488.2 L522.3 488.0 L523.3 487.8 L524.3 487.6 L525.2 487.3 L526.2 487.1 L527.2 486.9 L528.1 486.7 L529.1 486.4 L530.1 486.2 L531.1 486.0 L532.0 485.8 L533.0 485.6 L534.0 485.3 L534.9 485.1 L535.9 484.9 L536.9 484.7 L537.9 484.5 L538.8 484.2 L539.8 484.0 L540.8 483.8 L541.7 483.6 L542.7 483.4 L543.7 483.1 L544.7 482.9 L545.6 482.7 L546.6 482.5 L547.6 482.3 L548.5 482.0 L549.5 481.8 L550.5 481.6 L551.5 481.4 L552.4 481.2 L553.4 481.0 L554.4 480.7 L555.3 480.5 L556.3 480.3 L557.3 480.1 L558.2 479.9 L559.2 479.6 L560.2 479.4 L561.2 479.2 L562.1 479.0 L563.1 478.8 L564.1 478.6 L565.0 478.3 L566.0 478.1 L567.0 477.9 L568.0 477.7 L568.9 477.5 L569.9 477.3 L570.9 477.0 L571.8 476.8 L572.8 476.6 L573.8 476.4 L574.8 476.2 L575.7 476.0 L576.7 475.7 L577.7 475.5 L578.6 475.3 L579.6 475.1 L580.6 474.9 L581.6 474.7 L582.5 474.5 L583.5 474.2 L584.5 474.0 L585.4 473.8 L586.4 473.6 L587.4 473.4 L588.4 473.2 L589.3 473.0 L590.3 472.8 L591.3 472.6 L592.2 472.3 L593.2 472.1 L594.2 471.9 L595.2 471.7 L596.1 471.5 L597.1 471.3 L598.1 471.1 L599.0 470.9 L600.0 470.7 L601.0 470.5 L602.0 470.3 L602.9 470.1 L603.9 469.9 L604.9 469.7 L605.8 469.5 L606.8 469.3 L607.8 469.1 L608.8 468.8 L609.7 468.6 L610.7 468.4 L611.7 468.2 L612.6 468.0 L613.6 467.9 L614.6 467.7 L615.6 467.5 L616.5 467.3 L617.5 467.1 L618.5 466.9 L619.4 466.7 L620.4 466.5 L621.4 466.3 L622.4 466.1 L623.3 465.9 L624.3 465.7 L625.3 465.5 L626.2 465.3 L627.2 465.1 L628.2 465.0 L629.2 464.8 L630.1 464.6 L631.1 464.4 L632.1 464.2 L633.0 464.0 L634.0 463.8 L635.0 463.7 L636.0 463.5 L636.9 463.3 L637.9 463.1 L638.9 462.9 L639.8 462.8 L640.8 462.6 L641.8 462.4 L642.8 462.2 L643.7 462.1 L644.7 461.9 L645.7 461.7 L646.6 461.5 L647.6 461.4 L648.6 461.2 L649.6 461.0 L650.5 460.8 L651.5 460.7 L652.5 460.5 L653.4 460.3 L654.4 460.2 L655.4 460.0 L656.4 459.8 L657.3 459.7 L658.3 459.5 L659.3 459.3 L660.2 459.2 L661.2 459.0 L662.2 458.9 L663.2 458.7 L664.1 458.5 L665.1 458.4 L666.1 458.2 L667.0 458.1 L668.0 457.9 L669.0 457.7 L670.0 457.6 L670.9 457.4 L671.9 457.3 L672.9 457.1 L673.8 457.0 L674.8 456.8 L675.8 456.7 L676.8 456.5 L677.7 456.3 L678.7 456.2 L679.7 456.0 L680.6 455.9 L681.6 455.7 L682.6 455.6 L683.6 455.4 L684.5 455.3 L685.5 455.2 L686.5 455.0 L687.4 454.9 L688.4 454.7 L689.4 454.6 L690.4 454.4 L691.3 454.3 L692.3 454.1 L693.3 454.0 L694.2 453.9 L695.2 453.7 L696.2 453.6 L697.2 453.4 L698.1 453.3 L699.1 453.2 L700.1 453.0 L701.0 452.9 L702.0 452.8 L703.0 452.6 L704.0 452.5 L704.9 452.4 L705.9 452.2 L706.9 452.1 L707.8 452.0 L708.8 451.8 L709.8 451.7 L710.8 451.6 L711.7 451.4 L712.7 451.3 L713.7 451.2 L714.6 451.0 L715.6 450.9 L716.6 450.8 L717.5 450.7 L718.5 450.5 L719.5 450.4 L720.5 450.3 L721.4 450.2 L722.4 450.0 L723.4 449.9 L724.3 449.8 L725.3 449.7 L726.3 449.6 L727.3 449.4 L728.2 449.3 L729.2 449.2 L730.2 449.1 L731.1 449.0 L732.1 448.8 L733.1 448.7 L734.1 448.6 L735.0 448.5 L736.0 448.4 L737.0 448.3 L737.9 448.1 L738.9 448.0 L739.9 447.9 L740.9 447.8 L741.8 447.7 L742.8 447.6 L743.8 447.5 L744.7 447.3 L745.7 447.2 L746.7 447.1 L747.7 447.0 L748.6 446.9 L749.6 446.8 L750.6 446.7 L751.5 446.6 L752.5 446.5 L753.5 446.4 L754.5 446.3 L755.4 446.2 L756.4 446.0 L757.4 445.9 L758.3 445.8 L759.3 445.7 L760.3 445.6 L761.3 445.5 L762.2 445.4 L763.2 445.3 L764.2 445.2 L765.1 445.1 L766.1 445.0 L767.1 444.9 L768.1 444.8 L769.0 444.7 L770.0 444.6 L771.0 444.5 L771.9 444.4 L772.9 444.3 L773.9 444.2 L774.9 444.1 L775.8 444.0 L776.8 443.9 L777.8 443.8 L778.7 443.7 L779.7 443.6 L780.7 443.5 L781.7 443.4 L782.6 443.3 L783.6 443.2 L784.6 443.1 L785.5 443.0 L786.5 442.9 L787.5 442.8 L788.5 442.7 L789.4 442.6 L790.4 442.5" stroke="#0000ff" stroke-dasharray="9.1 7.5" stroke-dashoffset="0.7"/>
<path d="M138.4 412.9 L160.0 412.9 L161.0 412.9 L161.9 412.9 L162.9 412.9 L163.9 412.9 L164.9 412.9 L165.8 412.9 L166.8 412.9 L167.8 412.9 L168.7 412.9 L169.7 412.9 L170.7 412.9 L171.7 412.9 L172.6 412.9 L173.6 412.9 L174.6 412.9 L175.5 412.9 L176.5 412.9 L177.5 412.9 L178.5 412.9 L179.4 412.9 L180.4 412.9 L181.4 412.9 L182.3 412.9 L183.3 412.9 L184.3 412.9 L185.3 413.0 L186.2 413.0 L187.2 413.0 L188.2 413.0 L189.1 413.1 L190.1 413.1 L191.1 413.1 L192.1 413.2 L193.0 413.2 L194.0 413.3 L195.0 413.4 L195.9 413.5 L196.9 413.6 L197.9 413.7 L198.9 413.8 L199.8 413.9 L200.8 414.0 L201.8 414.1 L202.7 414.2 L203.7 414.4 L204.7 414.5 L205.7 414.7 L206.6 414.9 L207.6 415.0 L208.6 415.3 L209.5 415.5 L210.5 415.8 L211.5 416.0 L212.5 416.3 L213.4 416.7 L214.4 417.0 L215.4 417.3 L216.3 417.7 L217.3 418.1 L218.3 418.5 L219.3 418.9 L220.2 419.3 L221.2 419.7 L222.2 420.2 L223.1 420.6 L224.1 421.1 L225.1 421.6 L226.1 422.1 L227.0 422.7 L228.0 423.2 L229.0 423.8 L229.9 424.4 L230.9 425.0 L231.9 425.6 L232.9 426.2 L233.8 426.9 L234.8 427.5 L235.8 428.2 L236.7 428.9 L237.7 429.6 L238.7 430.4 L239.6 431.1 L240.6 431.9 L241.6 432.6 L242.6 433.4 L243.5 434.2 L244.5 435.0 L245.5 435.9 L246.4 436.7 L247.4 437.5 L248.4 438.3 L249.4 439.2 L250.3 440.0 L251.3 440.8 L252.3 441.7 L253.2 442.5 L254.2 443.3 L255.2 444.2 L256.2 445.0 L257.1 445.9 L258.1 446.7 L259.1 447.5 L260.0 448.4 L261.0 449.2 L262.0 450.0 L263.0 450.9 L263.9 451.7 L264.9 452.6 L265.9 453.4 L266.8 454.2 L267.8 455.1 L268.8 455.9 L269.8 456.7 L270.7 457.6 L271.7 458.4 L272.7 459.2 L273.6 460.1 L274.6 460.9 L275.6 461.7 L276.6 462.6 L277.5 463.4 L278.5 464.2 L279.5 465.0 L280.4 465.8 L281.4 466.6 L282.4 467.4 L283.4 468.2 L284.3 469.0 L285.3 469.7 L286.3 470.5 L287.2 471.3 L288.2 472.0 L289.2 472.7 L290.2 473.4 L291.1 474.1 L292.1 474.8 L293.1 475.5 L294.0 476.2 L295.0 476.9 L296.0 477.5 L297.0 478.1 L297.9 478.8 L298.9 479.4 L299.9 480.0 L300.8 480.6 L301.8 481.2 L302.8 481.8 L303.8 482.4 L304.7 483.0 L305.7 483.6 L306.7 484.2 L307.6 484.7 L308.6 485.3 L309.6 485.8 L310.6 486.4 L311.5 486.9 L312.5 487.4 L313.5 487.9 L314.4 488.4 L315.4 488.9 L316.4 489.4 L317.4 489.9 L318.3 490.3 L319.3 490.8 L320.3 491.2 L321.2 491.6 L322.2 492.0 L323.2 492.4 L324.2 492.8 L325.1 493.2 L326.1 493.5 L327.1 493.8 L328.0 494.1 L329.0 494.4 L330.0 494.7 L331.0 495.0 L331.9 495.3 L332.9 495.5 L333.9 495.7 L334.8 496.0 L335.8 496.2 L336.8 496.4 L337.8 496.5 L338.7 496.7 L339.7 496.9 L340.7 497.0 L341.6 497.2 L342.6 497.3 L343.6 497.5 L344.6 497.6 L345.5 497.8 L346.5 497.9 L347.5 498.0 L348.4 498.1 L349.4 498.2 L350.4 498.3 L351.4 498.4 L352.3 498.5 L353.3 498.6 L354.3 498.7 L355.2 498.7 L356.2 498.8 L357.2 498.8 L358.2 498.9 L359.1 498.9 L360.1 499.0 L361.1 499.0 L362.0 499.0 L363.0 499.0 L364.0 499.0 L365.0 499.1 L365.9 499.0 L366.9 499.0 L367.9 499.0 L368.8 499.0 L369.8 499.0 L370.8 498.9 L371.8 498.9 L372.7 498.9 L373.7 498.8 L374.7 498.8 L375.6 498.7 L376.6 498.6 L377.6 498.6 L378.6 498.5 L379.5 498.4 L380.5 498.3 L381.5 498.3 L382.4 498.2 L383.4 498.1 L384.4 498.0 L385.4 497.9 L386.3 497.8 L387.3 497.7 L388.3 497.5 L389.2 497.4 L390.2 497.3 L391.2 497.2 L392.2 497.1 L393.1 496.9 L394.1 496.8 L395.1 496.7 L396.0 496.5 L397.0 496.4 L398.0 496.2 L398.9 496.1 L399.9 495.9 L400.9 495.8 L401.9 495.6 L402.8 495.5 L403.8 495.3 L404.8 495.2 L405.7 495.0 L406.7 494.8 L407.7 494.7 L408.7 494.5 L409.6 494.3 L410.6 494.2 L411.6 494.0 L412.5 493.8 L413.5 493.6 L414.5 493.4 L415.5 493.3 L416.4 493.1 L417.4 492.9 L418.4 492.7 L419.3 492.5 L420.3 492.3 L421.3 492.1 L422.3 491.9 L423.2 491.8 L424.2 491.6 L425.2 491.4 L426.1 491.2 L427.1 491.0 L428.1 490.8 L429.1 490.6 L430.0 490.4 L431.0 490.2 L432.0 489.9 L432.9 489.7 L433.9 489.5 L434.9 489.3 L435.9 489.1 L436.8 488.9 L437.8 488.7 L438.8 488.5 L439.7 488.3 L440.7 488.1 L441.7 487.9 L442.7 487.6 L443.6 487.4 L444.6 487.2 L445.6 487.0 L446.5 486.8 L447.5 486.6 L448.5 486.4 L449.5 486.2 L450.4 485.9 L451.4 485.7 L452.4 485.5 L453.3 485.3 L454.3 485.1 L455.3 484.9 L456.3 484.7 L457.2 484.5 L458.2 484.2 L459.2 484.0 L460.1 483.8 L461.1 483.6 L462.1 483.4 L463.1 483.2 L464.0 483.0 L465.0 482.8 L466.0 482.6 L466.9 482.3 L467.9 482.1 L468.9 481.9 L469.9 481.7 L470.8 481.5 L471.8 481.3 L472.8 481.1 L473.7 480.9 L474.7 480.7 L475.7 480.5 L476.7 480.3 L477.6 480.1 L478.6 479.9 L479.6 479.7 L480.5 479.4 L481.5 479.2 L482.5 479.0 L483.5 478.8 L484.4 478.6 L485.4 478.4 L486.4 478.2 L487.3 478.0 L488.3 477.8 L489.3 477.6 L490.3 477.4 L491.2 477.2 L492.2 477.0 L493.2 476.8 L494.1 476.5 L495.1 476.3 L496.1 476.1 L497.1 475.9 L498.0 475.7 L499.0 475.5 L500.0 475.3 L500.9 475.1 L501.9 474.9 L502.9 474.7 L503.9 474.5 L504.8 474.3 L505.8 474.0 L506.8 473.8 L507.7 473.6 L508.7 473.4 L509.7 473.2 L510.7 473.0 L511.6 472.8 L512.6 472.6 L513.6 472.4 L514.5 472.2 L515.5 472.0 L516.5 471.8 L517.5 471.6 L518.4 471.4 L519.4 471.2 L520.4 471.0 L521.3 470.8 L522.3 470.6 L523.3 470.4 L524.3 470.2 L525.2 470.0 L526.2 469.8 L527.2 469.6 L528.1 469.4 L529.1 469.2 L530.1 469.0 L531.1 468.8 L532.0 468.6 L533.0 468.4 L534.0 468.2 L534.9 468.0 L535.9 467.8 L536.9 467.6 L537.9 467.4 L538.8 467.2 L539.8 467.0 L540.8 466.9 L541.7 466.7 L542.7 466.5 L543.7 466.3 L544.7 466.1 L545.6 465.9 L546.6 465.7 L547.6 465.5 L548.5 465.3 L549.5 465.1 L550.5 465.0 L551.5 464.8 L552.4 464.6 L553.4 464.4 L554.4 464.2 L555.3 464.0 L556.3 463.8 L557.3 463.7 L558.2 463.5 L559.2 463.3 L560.2 463.1 L561.2 462.9 L562.1 462.7 L563.1 462.6 L564.1 462.4 L565.0 462.2 L566.0 462.0 L567.0 461.8 L568.0 461.6 L568.9 461.5 L569.9 461.3 L570.9 461.1 L571.8 460.9 L572.8 460.7 L573.8 460.6 L574.8 460.4 L575.7 460.2 L576.7 460.0 L577.7 459.9 L578.6 459.7 L579.6 459.5 L580.6 459.3 L581.6 459.2 L582.5 459.0 L583.5 458.8 L584.5 458.6 L585.4 458.5 L586.4 458.3 L587.4 458.1 L588.4 457.9 L589.3 457.8 L590.3 457.6 L591.3 457.4 L592.2 457.3 L593.2 457.1 L594.2 456.9 L595.2 456.8 L596.1 456.6 L597.1 456.4 L598.1 456.2 L599.0 456.1 L600.0 455.9 L601.0 455.7 L602.0 455.6 L602.9 455.4 L603.9 455.3 L604.9 455.1 L605.8 454.9 L606.8 454.8 L607.8 454.6 L608.8 454.4 L609.7 454.3 L610.7 454.1 L611.7 454.0 L612.6 453.8 L613.6 453.6 L614.6 453.5 L615.6 453.3 L616.5 453.2 L617.5 453.0 L618.5 452.9 L619.4 452.7 L620.4 452.6 L621.4 452.4 L622.4 452.2 L623.3 452.1 L624.3 451.9 L625.3 451.8 L626.2 451.6 L627.2 451.5 L628.2 451.3 L629.2 451.2 L630.1 451.1 L631.1 450.9 L632.1 450.8 L633.0 450.6 L634.0 450.5 L635.0 450.3 L636.0 450.2 L636.9 450.0 L637.9 449.9 L638.9 449.8 L639.8 449.6 L640.8 449.5 L641.8 449.3 L642.8 449.2 L643.7 449.1 L644.7 448.9 L645.7 448.8 L646.6 448.7 L647.6 448.5 L648.6 448.4 L649.6 448.3 L650.5 448.1 L651.5 448.0 L652.5 447.9 L653.4 447.7 L654.4 447.6 L655.4 447.5 L656.4 447.4 L657.3 447.2 L658.3 447.1 L659.3 447.0 L660.2 446.9 L661.2 446.7 L662.2 446.6 L663.2 446.5 L664.1 446.4 L665.1 446.2 L666.1 446.1 L667.0 446.0 L668.0 445.9 L669.0 445.8 L670.0 445.6 L670.9 445.5 L671.9 445.4 L672.9 445.3 L673.8 445.2 L674.8 445.0 L675.8 444.9 L676.8 444.8 L677.7 444.7 L678.7 444.6 L679.7 444.5 L680.6 444.4 L681.6 444.3 L682.6 444.1 L683.6 444.0 L684.5 443.9 L685.5 443.8 L686.5 443.7 L687.4 443.6 L688.4 443.5 L689.4 443.4 L690.4 443.3 L691.3 443.2 L692.3 443.1 L693.3 443.0 L694.2 442.9 L695.2 442.8 L696.2 442.7 L697.2 442.6 L698.1 442.5 L699.1 442.4 L700.1 442.3 L701.0 442.2 L702.0 442.1 L703.0 442.0 L704.0 441.9 L704.9 441.8 L705.9 441.7 L706.9 441.6 L707.8 441.5 L708.8 441.4 L709.8 441.3 L710.8 441.2 L711.7 441.1 L712.7 441.0 L713.7 440.9 L714.6 440.8 L715.6 440.7 L716.6 440.6 L717.5 440.5 L718.5 440.4 L719.5 440.3 L720.5 440.3 L721.4 440.2 L722.4 440.1 L723.4 440.0 L724.3 439.9 L725.3 439.8 L726.3 439.7 L727.3 439.6 L728.2 439.5 L729.2 439.5 L730.2 439.4 L731.1 439.3 L732.1 439.2 L733.1 439.1 L734.1 439.0 L735.0 438.9 L736.0 438.9 L737.0 438.8 L737.9 438.7 L738.9 438.6 L739.9 438.5 L740.9 438.4 L741.8 438.3 L742.8 438.3 L743.8 438.2 L744.7 438.1 L745.7 438.0 L746.7 437.9 L747.7 437.9 L748.6 437.8 L749.6 437.7 L750.6 437.6 L751.5 437.5 L752.5 437.5 L753.5 437.4 L754.5 437.3 L755.4 437.2 L756.4 437.1 L757.4 437.1 L758.3 437.0 L759.3 436.9 L760.3 436.8 L761.3 436.7 L762.2 436.7 L763.2 436.6 L764.2 436.5 L765.1 436.4 L766.1 436.3 L767.1 436.3 L768.1 436.2 L769.0 436.1 L770.0 436.0 L771.0 436.0 L771.9 435.9 L772.9 435.8 L773.9 435.7 L774.9 435.7 L775.8 435.6 L776.8 435.5 L777.8 435.4 L778.7 435.3 L779.7 435.3 L780.7 435.2 L781.7 435.1 L782.6 435.0 L783.6 435.0 L784.6 434.9 L785.5 434.8 L786.5 434.7 L787.5 434.7 L788.5 434.6 L789.4 434.5 L790.4 434.4" stroke="#000000" stroke-dasharray="9.1 7.5" stroke-dashoffset="0.7"/>
</g>
<line x1="149.2" y1="43.4" x2="149.2" y2="536.1" stroke="#000" stroke-width="3" stroke-dasharray="1.9 3.92" stroke-dashoffset="-1.7"/>
<line x1="177.5" y1="43.4" x2="177.5" y2="536.1" stroke="#000" stroke-width="3" stroke-dasharray="1.9 3.92" stroke-dashoffset="-1.7"/>
<line x1="219.9" y1="43.4" x2="219.9" y2="536.1" stroke="#000" stroke-width="3" stroke-dasharray="1.9 3.92" stroke-dashoffset="-1.7"/>
<g font-family="'Liberation Sans', sans-serif" fill="#000" stroke="#000" stroke-width="0.7" font-size="25" opacity="0.999">
<text x="266.6" y="570" text-anchor="middle" letter-spacing="0.5">1000</text>
<text x="397.0" y="570" text-anchor="middle" letter-spacing="0.5">2000</text>
<text x="528.0" y="570" text-anchor="middle" letter-spacing="0.5">3000</text>
<text x="658.5" y="570" text-anchor="middle" letter-spacing="0.5">4000</text>
<text x="130.3" y="60" text-anchor="end" letter-spacing="0.3">0.6</text>
<text x="130.3" y="176.6" text-anchor="end" letter-spacing="0.3">0.4</text>
<text x="130.3" y="300" text-anchor="end" letter-spacing="0.3">0.2</text>
<text x="130.3" y="422.6" text-anchor="end" letter-spacing="0.3">0.0</text>
<text x="130.3" y="537.2" text-anchor="end" letter-spacing="0.3">−<tspan dx="2.5">0.2</tspan></text>
<text x="463.8" y="597.8" text-anchor="middle" font-size="23.6">Days</text>
<text transform="translate(56.3 372) rotate(-90)" font-size="24.5" letter-spacing="0.2" word-spacing="6">Polar field <tspan dx="-2.2" letter-spacing="1.5">[G]</tspan></text>
<g font-size="19" stroke-width="0.9" letter-spacing="0.5">
<text x="152.3" y="505.9">t1</text>
<text x="181.2" y="505.9">t2</text>
<text x="223.2" y="505.9">t3</text>
</g></g>
</svg>
</body></html>
